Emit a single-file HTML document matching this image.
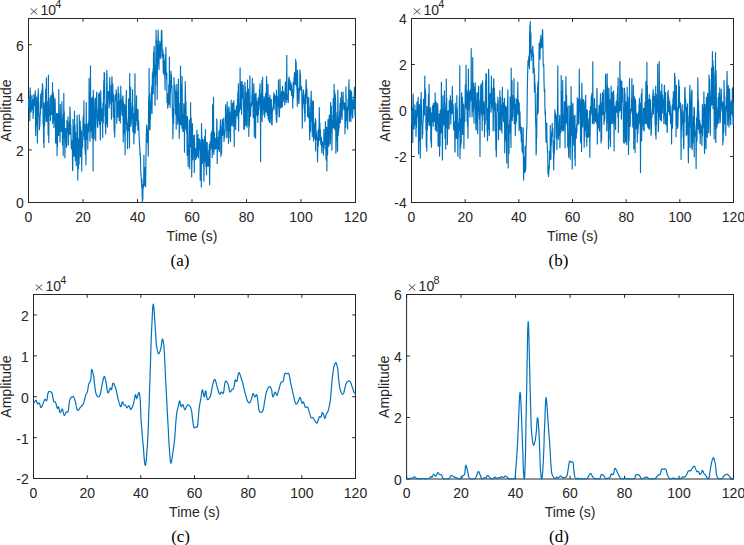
<!DOCTYPE html>
<html><head><meta charset="utf-8"><style>
html,body{margin:0;padding:0;background:#fff;}
svg{display:block;}
</style></head><body>
<svg width="744" height="545" viewBox="0 0 744 545" font-family='"Liberation Sans", sans-serif' font-size="14" fill="#262626">
<defs><clipPath id="ca"><rect x="27.7" y="17.7" width="328.6" height="185.6"/></clipPath><clipPath id="cb"><rect x="410.7" y="17.7" width="323.6" height="185.6"/></clipPath><clipPath id="cc"><rect x="32.7" y="293.7" width="323.6" height="185.6"/></clipPath><clipPath id="cd"><rect x="405.8" y="293.7" width="328.5" height="186.1"/></clipPath></defs>
<rect width="744" height="545" fill="#fff"/>
<rect x="28.5" y="18.5" width="327.0" height="184.0" fill="none" stroke="#262626" stroke-width="1"/><rect x="411.5" y="18.5" width="322.0" height="184.0" fill="none" stroke="#262626" stroke-width="1"/><rect x="33.5" y="294.5" width="322.0" height="184.0" fill="none" stroke="#262626" stroke-width="1"/><rect x="406.6" y="294.5" width="326.9" height="184.5" fill="none" stroke="#262626" stroke-width="1"/>
<path d="M28.50,202.5V199.20M28.50,18.5V21.80M83.00,202.5V199.20M83.00,18.5V21.80M137.50,202.5V199.20M137.50,18.5V21.80M192.00,202.5V199.20M192.00,18.5V21.80M246.50,202.5V199.20M246.50,18.5V21.80M301.00,202.5V199.20M301.00,18.5V21.80M355.50,202.5V199.20M355.50,18.5V21.80M28.5,202.50H31.80M355.5,202.50H352.20M28.5,149.93H31.80M355.5,149.93H352.20M28.5,97.36H31.80M355.5,97.36H352.20M28.5,44.79H31.80M355.5,44.79H352.20" stroke="#262626" stroke-width="1" fill="none"/><text x="28.50" y="221.80" text-anchor="middle">0</text><text x="83.00" y="221.80" text-anchor="middle">20</text><text x="137.50" y="221.80" text-anchor="middle">40</text><text x="192.00" y="221.80" text-anchor="middle">60</text><text x="246.50" y="221.80" text-anchor="middle">80</text><text x="301.00" y="221.80" text-anchor="middle">100</text><text x="355.50" y="221.80" text-anchor="middle">120</text><text x="23.70" y="208.40" text-anchor="end">0</text><text x="23.70" y="155.83" text-anchor="end">2</text><text x="23.70" y="103.26" text-anchor="end">4</text><text x="23.70" y="50.69" text-anchor="end">6</text><path d="M30.70,8.50L37.30,14.40M37.30,8.50L30.70,14.40" stroke="#262626" stroke-width="0.85" fill="none"/><text x="40.50" y="14.80">10</text><text x="55.30" y="8.10" font-size="10.8">4</text><text x="192.00" y="241.10" text-anchor="middle">Time (s)</text><text transform="translate(10.5,110.50) rotate(-90)" text-anchor="middle">Amplitude</text><path d="M411.50,202.5V199.20M411.50,18.5V21.80M465.17,202.5V199.20M465.17,18.5V21.80M518.83,202.5V199.20M518.83,18.5V21.80M572.50,202.5V199.20M572.50,18.5V21.80M626.17,202.5V199.20M626.17,18.5V21.80M679.83,202.5V199.20M679.83,18.5V21.80M733.50,202.5V199.20M733.50,18.5V21.80M411.5,202.50H414.80M733.5,202.50H730.20M411.5,156.50H414.80M733.5,156.50H730.20M411.5,110.50H414.80M733.5,110.50H730.20M411.5,64.50H414.80M733.5,64.50H730.20M411.5,18.50H414.80M733.5,18.50H730.20" stroke="#262626" stroke-width="1" fill="none"/><text x="411.50" y="221.80" text-anchor="middle">0</text><text x="465.17" y="221.80" text-anchor="middle">20</text><text x="518.83" y="221.80" text-anchor="middle">40</text><text x="572.50" y="221.80" text-anchor="middle">60</text><text x="626.17" y="221.80" text-anchor="middle">80</text><text x="679.83" y="221.80" text-anchor="middle">100</text><text x="733.50" y="221.80" text-anchor="middle">120</text><text x="406.70" y="208.40" text-anchor="end">-4</text><text x="406.70" y="162.40" text-anchor="end">-2</text><text x="406.70" y="116.40" text-anchor="end">0</text><text x="406.70" y="70.40" text-anchor="end">2</text><text x="406.70" y="24.40" text-anchor="end">4</text><path d="M413.70,8.50L420.30,14.40M420.30,8.50L413.70,14.40" stroke="#262626" stroke-width="0.85" fill="none"/><text x="423.50" y="14.80">10</text><text x="438.30" y="8.10" font-size="10.8">4</text><text x="572.50" y="241.10" text-anchor="middle">Time (s)</text><text transform="translate(389.5,110.50) rotate(-90)" text-anchor="middle">Amplitude</text><path d="M33.50,478.5V475.20M33.50,294.5V297.80M87.17,478.5V475.20M87.17,294.5V297.80M140.83,478.5V475.20M140.83,294.5V297.80M194.50,478.5V475.20M194.50,294.5V297.80M248.17,478.5V475.20M248.17,294.5V297.80M301.83,478.5V475.20M301.83,294.5V297.80M355.50,478.5V475.20M355.50,294.5V297.80M33.5,478.50H36.80M355.5,478.50H352.20M33.5,437.61H36.80M355.5,437.61H352.20M33.5,396.72H36.80M355.5,396.72H352.20M33.5,355.83H36.80M355.5,355.83H352.20M33.5,314.94H36.80M355.5,314.94H352.20" stroke="#262626" stroke-width="1" fill="none"/><text x="33.50" y="497.80" text-anchor="middle">0</text><text x="87.17" y="497.80" text-anchor="middle">20</text><text x="140.83" y="497.80" text-anchor="middle">40</text><text x="194.50" y="497.80" text-anchor="middle">60</text><text x="248.17" y="497.80" text-anchor="middle">80</text><text x="301.83" y="497.80" text-anchor="middle">100</text><text x="355.50" y="497.80" text-anchor="middle">120</text><text x="28.70" y="484.40" text-anchor="end">-2</text><text x="28.70" y="443.51" text-anchor="end">-1</text><text x="28.70" y="402.62" text-anchor="end">0</text><text x="28.70" y="361.73" text-anchor="end">1</text><text x="28.70" y="320.84" text-anchor="end">2</text><path d="M35.70,284.50L42.30,290.40M42.30,284.50L35.70,290.40" stroke="#262626" stroke-width="0.85" fill="none"/><text x="45.50" y="290.80">10</text><text x="60.30" y="284.10" font-size="10.8">4</text><text x="194.50" y="517.10" text-anchor="middle">Time (s)</text><text transform="translate(10.5,386.50) rotate(-90)" text-anchor="middle">Amplitude</text><path d="M406.60,479.0V475.70M406.60,294.5V297.80M461.08,479.0V475.70M461.08,294.5V297.80M515.57,479.0V475.70M515.57,294.5V297.80M570.05,479.0V475.70M570.05,294.5V297.80M624.53,479.0V475.70M624.53,294.5V297.80M679.02,479.0V475.70M679.02,294.5V297.80M733.50,479.0V475.70M733.50,294.5V297.80M406.6,479.00H409.90M733.5,479.00H730.20M406.6,417.50H409.90M733.5,417.50H730.20M406.6,356.00H409.90M733.5,356.00H730.20M406.6,294.50H409.90M733.5,294.50H730.20" stroke="#262626" stroke-width="1" fill="none"/><text x="406.60" y="498.30" text-anchor="middle">0</text><text x="461.08" y="498.30" text-anchor="middle">20</text><text x="515.57" y="498.30" text-anchor="middle">40</text><text x="570.05" y="498.30" text-anchor="middle">60</text><text x="624.53" y="498.30" text-anchor="middle">80</text><text x="679.02" y="498.30" text-anchor="middle">100</text><text x="733.50" y="498.30" text-anchor="middle">120</text><text x="401.80" y="484.90" text-anchor="end">0</text><text x="401.80" y="423.40" text-anchor="end">2</text><text x="401.80" y="361.90" text-anchor="end">4</text><text x="401.80" y="300.40" text-anchor="end">6</text><path d="M408.80,284.50L415.40,290.40M415.40,284.50L408.80,290.40" stroke="#262626" stroke-width="0.85" fill="none"/><text x="418.60" y="290.80">10</text><text x="433.40" y="284.10" font-size="10.8">8</text><text x="570.05" y="516.90" text-anchor="middle">Time (s)</text><text transform="translate(389.0,386.75) rotate(-90)" text-anchor="middle">Amplitude</text>
<path clip-path="url(#ca)" d="M28.5,97.9 L28.7,108.0 L28.9,103.0 L29.2,108.9 L29.4,106.4 L29.6,97.1 L29.8,120.8 L30.0,91.3 L30.2,87.8 L30.5,97.1 L30.7,111.9 L30.9,111.3 L31.1,111.9 L31.3,108.6 L31.6,108.8 L31.8,102.2 L32.0,95.4 L32.2,109.1 L32.4,107.3 L32.6,100.7 L32.9,99.7 L33.1,118.5 L33.3,106.6 L33.5,113.0 L33.7,104.7 L34.0,94.6 L34.2,105.8 L34.4,104.5 L34.6,101.8 L34.8,100.2 L35.0,96.9 L35.3,90.9 L35.5,117.7 L35.7,135.5 L35.9,120.5 L36.1,125.3 L36.4,111.4 L36.6,97.0 L36.8,106.9 L37.0,118.4 L37.2,115.9 L37.4,143.1 L37.7,125.0 L37.9,94.7 L38.1,104.0 L38.3,88.9 L38.5,99.9 L38.8,104.0 L39.0,116.4 L39.2,117.1 L39.4,129.8 L39.6,116.6 L39.8,126.6 L40.1,116.5 L40.3,114.7 L40.5,112.2 L40.7,94.4 L40.9,102.1 L41.2,103.1 L41.4,92.9 L41.6,107.9 L41.8,90.9 L42.0,96.5 L42.2,90.5 L42.5,83.5 L42.7,87.0 L42.9,89.3 L43.1,124.2 L43.3,112.6 L43.6,142.6 L43.8,121.0 L44.0,147.5 L44.2,102.8 L44.4,119.6 L44.6,126.2 L44.9,109.1 L45.1,121.7 L45.3,106.3 L45.5,103.5 L45.7,89.2 L46.0,117.1 L46.2,93.6 L46.4,77.9 L46.6,120.3 L46.8,121.6 L47.0,119.3 L47.3,107.3 L47.5,115.5 L47.7,102.7 L47.9,101.1 L48.1,134.8 L48.4,75.0 L48.6,129.8 L48.8,142.6 L49.0,105.2 L49.2,113.7 L49.4,115.3 L49.7,113.7 L49.9,98.0 L50.1,114.3 L50.3,100.4 L50.5,120.6 L50.8,95.6 L51.0,111.4 L51.2,102.6 L51.4,98.6 L51.6,114.6 L51.8,100.3 L52.1,93.6 L52.3,106.5 L52.5,82.6 L52.7,123.5 L52.9,116.1 L53.2,92.7 L53.4,95.3 L53.6,114.6 L53.8,96.5 L54.0,127.6 L54.2,111.1 L54.5,113.8 L54.7,119.6 L54.9,108.3 L55.1,98.9 L55.3,106.3 L55.6,142.7 L55.8,119.3 L56.0,143.3 L56.2,132.2 L56.4,136.2 L56.6,113.5 L56.9,131.8 L57.1,155.8 L57.3,128.0 L57.5,147.1 L57.7,113.4 L57.9,119.3 L58.2,125.0 L58.4,125.6 L58.6,135.5 L58.8,89.6 L59.0,120.8 L59.3,122.3 L59.5,114.6 L59.7,132.5 L59.9,133.6 L60.1,142.1 L60.3,104.5 L60.6,131.2 L60.8,126.8 L61.0,123.4 L61.2,125.1 L61.4,131.3 L61.7,116.5 L61.9,101.7 L62.1,127.2 L62.3,117.6 L62.5,145.0 L62.7,125.7 L63.0,126.8 L63.2,155.6 L63.4,114.1 L63.6,132.3 L63.8,93.4 L64.1,138.4 L64.3,111.8 L64.5,138.6 L64.7,134.6 L64.9,157.7 L65.1,143.8 L65.4,133.1 L65.6,128.4 L65.8,128.9 L66.0,131.2 L66.2,136.5 L66.5,147.3 L66.7,145.2 L66.9,120.7 L67.1,129.3 L67.3,122.0 L67.5,129.3 L67.8,132.5 L68.0,116.9 L68.2,135.1 L68.4,145.0 L68.6,131.5 L68.9,131.6 L69.1,123.7 L69.3,126.2 L69.5,121.1 L69.7,134.4 L69.9,106.9 L70.2,115.1 L70.4,124.3 L70.6,133.5 L70.8,124.7 L71.0,134.6 L71.3,147.8 L71.5,143.5 L71.7,149.2 L71.9,140.4 L72.1,146.2 L72.3,143.9 L72.6,170.6 L72.8,169.1 L73.0,119.4 L73.2,132.9 L73.4,140.7 L73.7,126.6 L73.9,146.5 L74.1,156.2 L74.3,148.0 L74.5,111.4 L74.7,137.8 L75.0,124.8 L75.2,154.7 L75.4,160.8 L75.6,132.6 L75.8,142.5 L76.1,158.2 L76.3,165.7 L76.5,150.9 L76.7,138.3 L76.9,137.7 L77.1,115.4 L77.4,129.3 L77.6,146.4 L77.8,180.1 L78.0,152.0 L78.2,139.0 L78.5,168.6 L78.7,141.4 L78.9,148.8 L79.1,163.9 L79.3,114.8 L79.5,138.7 L79.8,142.6 L80.0,126.8 L80.2,121.1 L80.4,156.9 L80.6,126.6 L80.9,144.0 L81.1,131.2 L81.3,152.0 L81.5,130.9 L81.7,171.1 L81.9,152.0 L82.2,139.5 L82.4,143.7 L82.6,147.2 L82.8,136.9 L83.0,120.7 L83.3,115.5 L83.5,135.6 L83.7,130.0 L83.9,100.9 L84.1,126.7 L84.3,139.2 L84.6,134.4 L84.8,124.2 L85.0,150.5 L85.2,125.0 L85.4,154.6 L85.7,147.6 L85.9,164.7 L86.1,135.0 L86.3,102.5 L86.5,139.5 L86.7,123.7 L87.0,130.0 L87.2,131.6 L87.4,127.8 L87.6,130.6 L87.8,149.3 L88.1,123.1 L88.3,126.7 L88.5,131.8 L88.7,121.0 L88.9,126.3 L89.1,78.3 L89.4,120.5 L89.6,118.3 L89.8,127.7 L90.0,141.2 L90.2,131.1 L90.5,65.8 L90.7,122.3 L90.9,130.7 L91.1,119.6 L91.3,113.5 L91.5,98.3 L91.8,125.6 L92.0,138.0 L92.2,108.5 L92.4,97.2 L92.6,101.4 L92.9,106.9 L93.1,171.0 L93.3,90.3 L93.5,112.1 L93.7,131.3 L93.9,137.9 L94.2,139.0 L94.4,110.3 L94.6,111.4 L94.8,103.0 L95.0,98.5 L95.3,127.5 L95.5,124.4 L95.7,140.7 L95.9,103.6 L96.1,97.8 L96.3,117.5 L96.6,92.2 L96.8,92.5 L97.0,115.0 L97.2,121.0 L97.4,125.8 L97.7,127.4 L97.9,124.5 L98.1,115.7 L98.3,109.0 L98.5,120.6 L98.7,94.1 L99.0,120.0 L99.2,98.3 L99.4,92.9 L99.6,124.4 L99.8,97.0 L100.1,113.2 L100.3,140.0 L100.5,112.9 L100.7,90.6 L100.9,100.6 L101.1,113.3 L101.4,120.7 L101.6,108.5 L101.8,113.1 L102.0,113.9 L102.2,123.5 L102.5,112.2 L102.7,137.5 L102.9,104.5 L103.1,102.5 L103.3,122.7 L103.5,97.7 L103.8,80.5 L104.0,98.9 L104.2,72.4 L104.4,96.0 L104.6,73.1 L104.9,115.4 L105.1,104.6 L105.3,126.3 L105.5,104.9 L105.7,133.9 L105.9,122.9 L106.2,110.4 L106.4,123.4 L106.6,102.0 L106.8,70.4 L107.0,75.0 L107.3,93.1 L107.5,127.0 L107.7,91.6 L107.9,99.5 L108.1,98.2 L108.3,93.6 L108.6,92.8 L108.8,91.6 L109.0,99.7 L109.2,108.0 L109.4,95.9 L109.7,77.5 L109.9,104.0 L110.1,100.1 L110.3,96.7 L110.5,99.5 L110.7,99.3 L111.0,94.8 L111.2,85.3 L111.4,119.1 L111.6,115.8 L111.8,78.7 L112.0,76.7 L112.3,101.5 L112.5,83.7 L112.7,84.1 L112.9,90.7 L113.1,94.6 L113.4,117.3 L113.6,94.7 L113.8,104.5 L114.0,120.0 L114.2,132.1 L114.4,108.9 L114.7,137.1 L114.9,127.1 L115.1,101.3 L115.3,94.9 L115.5,100.6 L115.8,97.1 L116.0,99.7 L116.2,89.5 L116.4,100.4 L116.6,92.8 L116.8,123.3 L117.1,102.3 L117.3,115.5 L117.5,111.1 L117.7,107.1 L117.9,117.0 L118.2,86.7 L118.4,96.9 L118.6,109.4 L118.8,95.8 L119.0,93.9 L119.2,120.4 L119.5,108.1 L119.7,114.5 L119.9,109.5 L120.1,100.7 L120.3,122.9 L120.6,102.2 L120.8,86.1 L121.0,104.1 L121.2,98.6 L121.4,109.2 L121.6,106.7 L121.9,114.8 L122.1,112.2 L122.3,100.1 L122.5,116.0 L122.7,96.1 L123.0,95.8 L123.2,141.8 L123.4,128.8 L123.6,102.4 L123.8,113.0 L124.0,119.4 L124.3,133.1 L124.5,115.5 L124.7,104.7 L124.9,132.3 L125.1,154.7 L125.4,106.7 L125.6,123.6 L125.8,109.1 L126.0,104.8 L126.2,97.8 L126.4,90.4 L126.7,127.8 L126.9,130.6 L127.1,123.0 L127.3,130.9 L127.5,148.6 L127.8,122.9 L128.0,130.3 L128.2,118.8 L128.4,130.8 L128.6,98.8 L128.8,108.1 L129.1,119.4 L129.3,129.8 L129.5,147.9 L129.7,73.5 L129.9,121.8 L130.2,97.9 L130.4,100.4 L130.6,87.4 L130.8,126.4 L131.0,102.9 L131.2,124.3 L131.5,110.9 L131.7,109.0 L131.9,110.1 L132.1,115.4 L132.3,119.0 L132.6,89.7 L132.8,131.8 L133.0,106.5 L133.2,124.4 L133.4,113.5 L133.6,113.8 L133.9,143.8 L134.1,125.1 L134.3,117.6 L134.5,133.8 L134.7,110.8 L135.0,73.7 L135.2,132.9 L135.4,122.0 L135.6,111.2 L135.8,119.2 L136.0,125.3 L136.3,112.4 L136.5,95.9 L136.7,116.4 L136.9,120.7 L137.1,109.9 L137.4,120.4 L137.6,109.7 L137.8,130.1 L138.0,109.4 L138.2,127.2 L138.4,128.1 L138.7,120.9 L138.9,130.6 L139.1,135.6 L139.3,139.6 L139.5,145.4 L139.8,147.8 L140.0,155.1 L140.2,152.9 L140.4,156.8 L140.6,164.8 L140.8,172.4 L141.1,176.4 L141.3,177.7 L141.5,182.7 L141.7,187.3 L141.9,179.1 L142.2,195.0 L142.4,202.5 L142.6,198.7 L142.8,199.6 L143.0,184.6 L143.2,188.6 L143.5,184.6 L143.7,185.6 L143.9,155.1 L144.1,177.0 L144.3,185.6 L144.6,181.8 L144.8,167.5 L145.0,173.5 L145.2,174.8 L145.4,177.1 L145.6,186.7 L145.9,164.0 L146.1,147.5 L146.3,137.2 L146.5,128.9 L146.7,125.0 L147.0,129.2 L147.2,142.4 L147.4,136.1 L147.6,130.0 L147.8,137.8 L148.0,133.2 L148.3,156.0 L148.5,112.2 L148.7,96.5 L148.9,129.0 L149.1,68.4 L149.4,128.5 L149.6,112.5 L149.8,93.8 L150.0,130.0 L150.2,120.6 L150.4,119.1 L150.7,111.2 L150.9,108.7 L151.1,100.8 L151.3,101.5 L151.5,91.5 L151.8,85.9 L152.0,113.5 L152.2,95.9 L152.4,73.2 L152.6,81.8 L152.8,82.1 L153.1,68.9 L153.3,93.8 L153.5,52.7 L153.7,67.5 L153.9,53.1 L154.2,46.3 L154.4,64.9 L154.6,77.4 L154.8,69.2 L155.0,105.4 L155.2,89.1 L155.5,64.9 L155.7,84.5 L155.9,49.4 L156.1,30.2 L156.3,74.1 L156.6,40.0 L156.8,53.4 L157.0,46.8 L157.2,99.2 L157.4,68.7 L157.6,65.9 L157.9,45.5 L158.1,30.2 L158.3,37.5 L158.5,61.5 L158.7,56.4 L159.0,69.6 L159.2,44.9 L159.4,52.2 L159.6,57.3 L159.8,41.2 L160.0,48.6 L160.3,58.3 L160.5,55.5 L160.7,58.2 L160.9,43.3 L161.1,49.4 L161.4,30.2 L161.6,30.2 L161.8,30.2 L162.0,40.6 L162.2,55.3 L162.4,57.1 L162.7,54.6 L162.9,50.0 L163.1,64.2 L163.3,73.1 L163.5,63.2 L163.8,54.4 L164.0,70.3 L164.2,75.0 L164.4,61.0 L164.6,65.1 L164.8,74.9 L165.1,90.0 L165.3,61.3 L165.5,58.8 L165.7,56.9 L165.9,47.3 L166.1,70.8 L166.4,73.6 L166.6,79.3 L166.8,72.7 L167.0,102.5 L167.2,93.3 L167.5,94.7 L167.7,108.3 L167.9,103.7 L168.1,98.0 L168.3,105.1 L168.5,102.3 L168.8,84.6 L169.0,90.5 L169.2,97.7 L169.4,57.2 L169.6,103.9 L169.9,96.4 L170.1,107.5 L170.3,80.6 L170.5,93.3 L170.7,79.9 L170.9,71.1 L171.2,87.3 L171.4,74.3 L171.6,88.0 L171.8,86.7 L172.0,86.2 L172.3,105.6 L172.5,116.7 L172.7,117.5 L172.9,138.8 L173.1,125.5 L173.3,108.4 L173.6,123.4 L173.8,113.6 L174.0,77.6 L174.2,87.8 L174.4,85.3 L174.7,86.9 L174.9,85.0 L175.1,90.7 L175.3,101.9 L175.5,114.1 L175.7,91.2 L176.0,101.4 L176.2,129.3 L176.4,115.3 L176.6,104.6 L176.8,84.4 L177.1,105.4 L177.3,92.4 L177.5,109.6 L177.7,124.2 L177.9,115.4 L178.1,121.8 L178.4,79.0 L178.6,113.9 L178.8,108.7 L179.0,103.2 L179.2,138.5 L179.5,124.7 L179.7,117.9 L179.9,117.8 L180.1,125.0 L180.3,116.7 L180.5,66.1 L180.8,101.7 L181.0,110.1 L181.2,124.7 L181.4,85.4 L181.6,115.1 L181.9,128.3 L182.1,76.3 L182.3,112.8 L182.5,115.1 L182.7,121.4 L182.9,131.5 L183.2,121.8 L183.4,118.0 L183.6,117.2 L183.8,103.7 L184.0,131.4 L184.3,121.8 L184.5,152.3 L184.7,106.5 L184.9,110.2 L185.1,104.1 L185.3,81.5 L185.6,102.0 L185.8,129.2 L186.0,101.8 L186.2,126.2 L186.4,121.9 L186.7,133.0 L186.9,116.7 L187.1,155.1 L187.3,132.9 L187.5,116.5 L187.7,155.1 L188.0,157.6 L188.2,166.7 L188.4,144.5 L188.6,150.7 L188.8,153.3 L189.1,134.6 L189.3,119.8 L189.5,151.6 L189.7,168.7 L189.9,146.8 L190.1,138.5 L190.4,146.8 L190.6,102.6 L190.8,139.4 L191.0,125.0 L191.2,117.7 L191.5,134.8 L191.7,177.0 L191.9,162.5 L192.1,157.0 L192.3,152.7 L192.5,123.7 L192.8,159.7 L193.0,150.5 L193.2,144.8 L193.4,148.8 L193.6,152.8 L193.9,135.6 L194.1,144.9 L194.3,172.5 L194.5,135.1 L194.7,152.6 L194.9,158.1 L195.2,148.4 L195.4,149.2 L195.6,151.8 L195.8,159.7 L196.0,149.3 L196.3,157.6 L196.5,157.8 L196.7,146.4 L196.9,130.1 L197.1,146.4 L197.3,155.1 L197.6,143.9 L197.8,156.0 L198.0,134.5 L198.2,152.8 L198.4,157.8 L198.7,146.0 L198.9,145.9 L199.1,138.8 L199.3,149.8 L199.5,144.9 L199.7,139.3 L200.0,147.4 L200.2,180.2 L200.4,150.7 L200.6,175.6 L200.8,151.8 L201.1,140.4 L201.3,187.1 L201.5,123.5 L201.7,135.1 L201.9,159.6 L202.1,137.5 L202.4,163.6 L202.6,149.5 L202.8,150.5 L203.0,150.4 L203.2,139.6 L203.5,156.7 L203.7,160.6 L203.9,181.3 L204.1,169.1 L204.3,153.4 L204.5,140.5 L204.8,136.7 L205.0,161.3 L205.2,161.7 L205.4,129.5 L205.6,145.5 L205.9,166.5 L206.1,166.1 L206.3,154.8 L206.5,174.6 L206.7,142.2 L206.9,144.8 L207.2,142.5 L207.4,152.8 L207.6,166.1 L207.8,158.9 L208.0,162.5 L208.3,157.8 L208.5,166.1 L208.7,150.3 L208.9,162.0 L209.1,152.6 L209.3,144.4 L209.6,184.8 L209.8,169.2 L210.0,165.2 L210.2,141.7 L210.4,142.8 L210.7,149.2 L210.9,141.4 L211.1,133.4 L211.3,141.8 L211.5,147.3 L211.7,131.6 L212.0,138.3 L212.2,157.4 L212.4,149.2 L212.6,104.8 L212.8,148.5 L213.1,149.6 L213.3,151.4 L213.5,97.4 L213.7,147.9 L213.9,154.5 L214.1,133.4 L214.4,132.2 L214.6,139.4 L214.8,140.8 L215.0,143.7 L215.2,149.3 L215.5,138.2 L215.7,141.9 L215.9,142.2 L216.1,141.0 L216.3,148.4 L216.5,144.0 L216.8,118.8 L217.0,121.5 L217.2,163.5 L217.4,145.6 L217.6,151.0 L217.9,145.0 L218.1,148.2 L218.3,137.4 L218.5,148.9 L218.7,143.1 L218.9,131.0 L219.2,146.8 L219.4,151.5 L219.6,130.9 L219.8,130.6 L220.0,129.4 L220.2,126.4 L220.5,119.7 L220.7,125.2 L220.9,156.6 L221.1,141.0 L221.3,153.5 L221.6,154.2 L221.8,135.0 L222.0,126.1 L222.2,128.6 L222.4,119.4 L222.6,135.4 L222.9,131.5 L223.1,127.9 L223.3,125.5 L223.5,129.4 L223.7,118.0 L224.0,141.6 L224.2,134.0 L224.4,136.2 L224.6,137.5 L224.8,135.1 L225.0,130.5 L225.3,130.2 L225.5,107.6 L225.7,104.7 L225.9,113.1 L226.1,122.2 L226.4,122.5 L226.6,117.7 L226.8,137.7 L227.0,136.5 L227.2,101.8 L227.4,130.6 L227.7,108.0 L227.9,125.5 L228.1,114.4 L228.3,119.5 L228.5,143.3 L228.8,124.7 L229.0,106.8 L229.2,112.0 L229.4,130.4 L229.6,123.3 L229.8,112.2 L230.1,137.5 L230.3,131.0 L230.5,141.5 L230.7,125.6 L230.9,124.9 L231.2,100.2 L231.4,116.0 L231.6,111.6 L231.8,125.3 L232.0,116.4 L232.2,121.4 L232.5,103.0 L232.7,115.3 L232.9,116.9 L233.1,125.9 L233.3,126.3 L233.6,105.1 L233.8,100.7 L234.0,105.9 L234.2,146.6 L234.4,110.7 L234.6,122.6 L234.9,123.3 L235.1,110.2 L235.3,124.1 L235.5,120.1 L235.7,129.6 L236.0,112.9 L236.2,109.5 L236.4,106.2 L236.6,108.2 L236.8,105.6 L237.0,115.8 L237.3,109.2 L237.5,99.2 L237.7,100.4 L237.9,91.6 L238.1,118.3 L238.4,83.9 L238.6,131.1 L238.8,113.5 L239.0,108.8 L239.2,104.2 L239.4,112.0 L239.7,106.8 L239.9,97.2 L240.1,67.8 L240.3,104.6 L240.5,109.1 L240.8,91.3 L241.0,82.1 L241.2,95.2 L241.4,98.3 L241.6,114.3 L241.8,102.3 L242.1,81.3 L242.3,98.3 L242.5,93.3 L242.7,88.0 L242.9,93.1 L243.2,85.1 L243.4,95.3 L243.6,105.6 L243.8,129.1 L244.0,122.7 L244.2,99.9 L244.5,129.1 L244.7,105.7 L244.9,82.5 L245.1,96.1 L245.3,86.5 L245.6,104.8 L245.8,125.4 L246.0,102.8 L246.2,114.4 L246.4,111.1 L246.6,92.2 L246.9,120.9 L247.1,127.3 L247.3,121.0 L247.5,80.1 L247.7,103.4 L248.0,109.4 L248.2,106.8 L248.4,89.0 L248.6,96.7 L248.8,136.5 L249.0,123.6 L249.3,114.2 L249.5,125.8 L249.7,103.1 L249.9,75.7 L250.1,111.2 L250.4,103.9 L250.6,116.2 L250.8,107.0 L251.0,103.7 L251.2,106.7 L251.4,103.0 L251.7,104.9 L251.9,95.0 L252.1,97.9 L252.3,78.4 L252.5,98.1 L252.8,104.8 L253.0,104.3 L253.2,117.7 L253.4,110.7 L253.6,100.2 L253.8,83.8 L254.1,98.0 L254.3,136.7 L254.5,101.6 L254.7,110.7 L254.9,94.0 L255.2,105.1 L255.4,106.2 L255.6,138.2 L255.8,97.5 L256.0,93.0 L256.2,99.1 L256.5,115.2 L256.7,115.3 L256.9,101.4 L257.1,110.5 L257.3,105.9 L257.6,109.1 L257.8,122.5 L258.0,99.0 L258.2,98.1 L258.4,114.5 L258.6,100.2 L258.9,109.8 L259.1,95.7 L259.3,104.2 L259.5,89.3 L259.7,94.3 L260.0,83.7 L260.2,99.9 L260.4,105.4 L260.6,161.8 L260.8,106.7 L261.0,112.9 L261.3,94.3 L261.5,101.0 L261.7,91.8 L261.9,80.7 L262.1,121.3 L262.4,109.7 L262.6,77.3 L262.8,108.0 L263.0,109.5 L263.2,101.5 L263.4,100.4 L263.7,104.3 L263.9,114.7 L264.1,96.5 L264.3,109.4 L264.5,101.0 L264.8,117.3 L265.0,100.9 L265.2,98.4 L265.4,106.1 L265.6,93.5 L265.8,95.3 L266.1,112.3 L266.3,102.8 L266.5,76.5 L266.7,80.5 L266.9,111.7 L267.2,105.4 L267.4,115.3 L267.6,97.9 L267.8,113.7 L268.0,84.3 L268.2,118.7 L268.5,100.0 L268.7,120.4 L268.9,97.7 L269.1,120.6 L269.3,103.9 L269.6,122.4 L269.8,112.5 L270.0,95.2 L270.2,122.6 L270.4,112.0 L270.6,112.8 L270.9,99.3 L271.1,109.1 L271.3,99.4 L271.5,111.8 L271.7,124.5 L272.0,125.1 L272.2,121.2 L272.4,108.8 L272.6,111.6 L272.8,110.0 L273.0,106.1 L273.3,107.2 L273.5,96.7 L273.7,97.8 L273.9,92.7 L274.1,109.3 L274.3,103.1 L274.6,94.7 L274.8,100.5 L275.0,99.0 L275.2,96.1 L275.4,102.7 L275.7,96.2 L275.9,113.9 L276.1,106.0 L276.3,120.2 L276.5,90.3 L276.7,122.5 L277.0,113.4 L277.2,113.5 L277.4,101.6 L277.6,106.6 L277.8,96.2 L278.1,98.6 L278.3,103.8 L278.5,80.0 L278.7,102.8 L278.9,108.7 L279.1,117.0 L279.4,116.2 L279.6,110.0 L279.8,107.0 L280.0,79.2 L280.2,88.4 L280.5,102.2 L280.7,107.1 L280.9,103.1 L281.1,107.9 L281.3,107.7 L281.5,93.0 L281.8,91.1 L282.0,96.2 L282.2,94.3 L282.4,106.7 L282.6,86.3 L282.9,97.4 L283.1,101.4 L283.3,101.5 L283.5,91.5 L283.7,94.1 L283.9,97.9 L284.2,92.9 L284.4,94.5 L284.6,98.7 L284.8,105.1 L285.0,97.1 L285.3,82.7 L285.5,81.8 L285.7,99.0 L285.9,93.6 L286.1,88.4 L286.3,102.4 L286.6,83.6 L286.8,55.3 L287.0,98.8 L287.2,94.2 L287.4,98.6 L287.7,99.8 L287.9,97.9 L288.1,102.3 L288.3,102.4 L288.5,85.5 L288.7,78.1 L289.0,87.9 L289.2,77.0 L289.4,89.5 L289.6,79.9 L289.8,80.9 L290.1,84.7 L290.3,82.3 L290.5,90.6 L290.7,82.3 L290.9,83.0 L291.1,89.4 L291.4,85.0 L291.6,95.5 L291.8,89.7 L292.0,95.4 L292.2,91.7 L292.5,95.2 L292.7,108.2 L292.9,89.3 L293.1,84.3 L293.3,82.3 L293.5,97.7 L293.8,92.0 L294.0,77.7 L294.2,83.4 L294.4,72.6 L294.6,76.0 L294.9,73.1 L295.1,84.4 L295.3,77.5 L295.5,84.2 L295.7,59.4 L295.9,70.3 L296.2,62.3 L296.4,86.2 L296.6,82.0 L296.8,81.9 L297.0,89.4 L297.3,106.3 L297.5,70.2 L297.7,77.0 L297.9,95.5 L298.1,100.0 L298.3,87.9 L298.6,95.3 L298.8,103.5 L299.0,102.8 L299.2,94.2 L299.4,88.6 L299.7,90.7 L299.9,69.9 L300.1,72.8 L300.3,86.3 L300.5,74.4 L300.7,89.7 L301.0,87.6 L301.2,88.7 L301.4,90.1 L301.6,86.7 L301.8,95.4 L302.1,109.5 L302.3,128.2 L302.5,106.3 L302.7,108.0 L302.9,98.6 L303.1,94.4 L303.4,89.8 L303.6,99.9 L303.8,103.5 L304.0,94.5 L304.2,101.7 L304.5,113.1 L304.7,111.2 L304.9,121.5 L305.1,119.3 L305.3,101.2 L305.5,90.9 L305.8,103.5 L306.0,81.2 L306.2,79.7 L306.4,87.2 L306.6,95.2 L306.9,89.0 L307.1,98.3 L307.3,96.1 L307.5,116.6 L307.7,103.7 L307.9,112.8 L308.2,115.2 L308.4,98.4 L308.6,118.0 L308.8,97.3 L309.0,112.8 L309.3,106.6 L309.5,130.8 L309.7,139.8 L309.9,123.0 L310.1,113.0 L310.3,120.7 L310.6,131.2 L310.8,100.9 L311.0,96.7 L311.2,91.2 L311.4,105.1 L311.7,102.4 L311.9,121.5 L312.1,116.7 L312.3,136.6 L312.5,124.2 L312.7,100.8 L313.0,109.2 L313.2,127.9 L313.4,101.4 L313.6,141.0 L313.8,125.1 L314.1,136.1 L314.3,138.6 L314.5,128.2 L314.7,127.7 L314.9,122.9 L315.1,135.4 L315.4,118.6 L315.6,151.0 L315.8,120.4 L316.0,135.9 L316.2,131.6 L316.5,135.5 L316.7,139.7 L316.9,137.3 L317.1,137.9 L317.3,138.5 L317.5,161.9 L317.8,148.7 L318.0,130.7 L318.2,146.3 L318.4,144.8 L318.6,130.7 L318.9,128.0 L319.1,123.4 L319.3,107.6 L319.5,119.4 L319.7,140.4 L319.9,122.6 L320.2,138.5 L320.4,129.5 L320.6,138.3 L320.8,144.5 L321.0,140.1 L321.3,137.2 L321.5,141.1 L321.7,152.8 L321.9,140.8 L322.1,146.2 L322.3,142.1 L322.6,145.4 L322.8,146.1 L323.0,143.2 L323.2,144.5 L323.4,154.9 L323.7,147.6 L323.9,129.3 L324.1,148.5 L324.3,137.8 L324.5,139.3 L324.7,143.3 L325.0,132.9 L325.2,144.2 L325.4,121.7 L325.6,137.7 L325.8,149.6 L326.1,160.1 L326.3,157.2 L326.5,127.3 L326.7,127.2 L326.9,171.0 L327.1,128.9 L327.4,129.4 L327.6,154.9 L327.8,139.0 L328.0,119.5 L328.2,127.2 L328.4,137.0 L328.7,137.7 L328.9,146.3 L329.1,120.2 L329.3,115.0 L329.5,130.4 L329.8,121.6 L330.0,119.7 L330.2,143.9 L330.4,138.9 L330.6,102.5 L330.8,130.1 L331.1,111.2 L331.3,106.2 L331.5,131.9 L331.7,122.2 L331.9,150.2 L332.2,126.5 L332.4,120.8 L332.6,128.4 L332.8,115.4 L333.0,120.3 L333.2,98.5 L333.5,115.9 L333.7,127.8 L333.9,110.6 L334.1,84.3 L334.3,118.1 L334.6,90.7 L334.8,129.7 L335.0,105.5 L335.2,94.0 L335.4,98.2 L335.6,100.6 L335.9,153.3 L336.1,131.1 L336.3,124.9 L336.5,121.9 L336.7,140.6 L337.0,116.7 L337.2,112.2 L337.4,151.2 L337.6,150.6 L337.8,90.1 L338.0,101.6 L338.3,135.3 L338.5,120.8 L338.7,131.6 L338.9,117.5 L339.1,128.1 L339.4,119.1 L339.6,112.8 L339.8,112.7 L340.0,103.4 L340.2,110.2 L340.4,122.8 L340.7,97.9 L340.9,116.3 L341.1,111.5 L341.3,109.1 L341.5,92.4 L341.8,115.6 L342.0,119.5 L342.2,114.8 L342.4,107.6 L342.6,100.5 L342.8,101.7 L343.1,92.0 L343.3,102.8 L343.5,105.2 L343.7,106.9 L343.9,109.8 L344.2,105.5 L344.4,102.7 L344.6,108.2 L344.8,103.7 L345.0,133.8 L345.2,114.0 L345.5,106.5 L345.7,127.4 L345.9,86.9 L346.1,98.2 L346.3,120.7 L346.6,120.5 L346.8,116.3 L347.0,108.2 L347.2,107.1 L347.4,120.3 L347.6,129.1 L347.9,113.8 L348.1,99.0 L348.3,100.7 L348.5,107.6 L348.7,89.2 L349.0,79.7 L349.2,110.6 L349.4,103.7 L349.6,121.2 L349.8,109.1 L350.0,110.4 L350.3,89.9 L350.5,108.8 L350.7,92.0 L350.9,121.6 L351.1,106.7 L351.4,105.9 L351.6,91.4 L351.8,101.7 L352.0,107.6 L352.2,112.7 L352.4,116.0 L352.7,118.1 L352.9,103.0 L353.1,99.0 L353.3,104.3 L353.5,106.1 L353.8,108.6 L354.0,105.6 L354.2,102.3 L354.4,87.2 L354.6,109.1 L354.8,106.6 L355.1,116.3 L355.3,110.8 L355.5,98.2" stroke="#0072BD" stroke-width="1.15" fill="none" stroke-linejoin="round"/><path clip-path="url(#cb)" d="M411.5,109.8 L411.7,124.6 L411.9,117.1 L412.1,125.6 L412.4,121.8 L412.6,108.1 L412.8,142.6 L413.0,99.3 L413.2,94.1 L413.4,107.5 L413.6,129.1 L413.9,127.9 L414.1,129.0 L414.3,124.1 L414.5,124.2 L414.7,114.6 L414.9,104.9 L415.2,124.1 L415.4,121.5 L415.6,112.2 L415.8,110.7 L416.0,136.2 L416.2,119.5 L416.4,127.6 L416.7,116.1 L416.9,102.1 L417.1,116.7 L417.3,114.8 L417.5,111.2 L417.7,109.2 L417.9,105.0 L418.2,97.4 L418.4,131.6 L418.6,154.0 L418.8,135.0 L419.0,140.7 L419.2,122.9 L419.4,104.6 L419.7,116.3 L419.9,129.8 L420.1,126.1 L420.3,158.1 L420.5,135.8 L420.7,99.2 L421.0,109.9 L421.2,92.2 L421.4,105.0 L421.6,109.7 L421.8,123.9 L422.0,124.6 L422.2,138.7 L422.5,123.7 L422.7,134.7 L422.9,123.3 L423.1,121.1 L423.3,118.5 L423.5,99.4 L423.7,108.1 L424.0,109.4 L424.2,98.8 L424.4,115.1 L424.6,97.1 L424.8,76.0 L425.0,96.3 L425.2,88.7 L425.5,92.2 L425.7,94.3 L425.9,129.6 L426.1,117.5 L426.3,147.3 L426.5,125.0 L426.8,151.1 L427.0,106.5 L427.2,123.3 L427.4,129.9 L427.6,113.3 L427.8,125.6 L428.0,110.8 L428.3,108.3 L428.5,94.8 L428.7,121.5 L428.9,99.5 L429.1,84.6 L429.3,124.3 L429.5,125.5 L429.8,123.4 L430.0,112.4 L430.2,120.4 L430.4,108.7 L430.6,107.5 L430.8,139.2 L431.0,142.8 L431.3,135.1 L431.5,147.2 L431.7,112.8 L431.9,120.9 L432.1,122.2 L432.3,120.5 L432.6,105.8 L432.8,120.7 L433.0,107.8 L433.2,126.2 L433.4,103.4 L433.6,118.0 L433.8,110.0 L434.1,106.6 L434.3,121.4 L434.5,108.5 L434.7,102.5 L434.9,114.4 L435.1,92.8 L435.3,130.1 L435.6,123.4 L435.8,101.5 L436.0,103.0 L436.2,120.0 L436.4,102.6 L436.6,131.5 L436.8,115.9 L437.1,118.3 L437.3,123.8 L437.5,112.8 L437.7,103.5 L437.9,110.5 L438.1,146.1 L438.4,122.8 L438.6,146.1 L438.8,134.3 L439.0,137.7 L439.2,113.8 L439.4,131.9 L439.6,156.1 L439.9,126.5 L440.1,145.8 L440.3,110.0 L440.5,116.0 L440.7,122.0 L440.9,122.4 L441.1,133.0 L441.4,82.2 L441.6,116.4 L441.8,117.7 L442.0,108.8 L442.2,128.8 L442.4,159.9 L442.6,139.2 L442.9,95.9 L443.1,125.9 L443.3,120.6 L443.5,116.3 L443.7,117.9 L443.9,124.4 L444.2,107.5 L444.4,90.8 L444.6,119.0 L444.8,108.3 L445.0,138.3 L445.2,116.9 L445.4,117.9 L445.7,149.1 L445.9,103.0 L446.1,122.1 L446.3,79.1 L446.5,127.1 L446.7,97.7 L446.9,125.7 L447.2,120.7 L447.4,144.6 L447.6,128.9 L447.8,116.7 L448.0,111.0 L448.2,110.8 L448.4,112.6 L448.7,117.9 L448.9,128.9 L449.1,126.4 L449.3,100.7 L449.5,109.4 L449.7,101.6 L450.0,108.9 L450.2,111.9 L450.4,95.7 L450.6,114.2 L450.8,124.1 L451.0,110.2 L451.2,110.3 L451.5,102.4 L451.7,105.1 L451.9,100.1 L452.1,113.6 L452.3,86.4 L452.5,94.7 L452.7,103.9 L453.0,113.2 L453.2,104.8 L453.4,114.9 L453.6,128.2 L453.8,124.3 L454.0,130.2 L454.2,121.9 L454.5,127.9 L454.7,126.0 L454.9,152.1 L455.1,150.9 L455.3,103.4 L455.5,116.8 L455.8,124.5 L456.0,110.7 L456.2,129.5 L456.4,138.4 L456.6,130.3 L456.8,95.5 L457.0,120.2 L457.3,107.7 L457.5,135.6 L457.7,141.0 L457.9,156.5 L458.1,123.4 L458.3,137.7 L458.5,126.0 L458.8,130.6 L459.0,118.8 L459.2,118.1 L459.4,96.6 L459.6,109.7 L459.8,65.7 L460.0,158.8 L460.3,131.4 L460.5,118.6 L460.7,147.8 L460.9,120.7 L461.1,128.1 L461.3,143.1 L461.6,92.9 L461.8,116.8 L462.0,120.5 L462.2,103.6 L462.4,97.2 L462.6,134.4 L462.8,102.0 L463.1,120.1 L463.3,106.0 L463.5,128.0 L463.7,104.7 L463.9,148.4 L464.1,127.2 L464.3,113.3 L464.6,117.8 L464.8,121.6 L465.0,109.8 L465.2,91.0 L465.4,84.5 L465.6,107.1 L465.8,99.9 L466.1,65.2 L466.3,94.6 L466.5,108.7 L466.7,102.9 L466.9,90.9 L467.1,121.7 L467.4,92.5 L467.6,126.6 L467.8,118.8 L468.0,138.3 L468.2,105.0 L468.4,69.0 L468.6,109.9 L468.9,91.8 L469.1,98.0 L469.3,99.3 L469.5,94.5 L469.7,96.8 L469.9,116.9 L470.1,90.0 L470.4,94.6 L470.6,100.8 L470.8,90.4 L471.0,96.6 L471.2,48.6 L471.4,92.7 L471.6,91.6 L471.9,102.2 L472.1,116.8 L472.3,107.9 L472.5,93.3 L472.7,57.6 L472.9,110.9 L473.2,101.3 L473.4,96.7 L473.6,83.4 L473.8,110.5 L474.0,123.3 L474.2,96.8 L474.4,87.4 L474.7,92.3 L474.9,97.8 L475.1,107.3 L475.3,82.9 L475.5,103.7 L475.7,122.1 L475.9,128.7 L476.2,130.2 L476.4,103.4 L476.6,104.9 L476.8,97.2 L477.0,92.9 L477.2,120.8 L477.4,117.9 L477.7,133.8 L477.9,98.1 L478.1,92.3 L478.3,111.1 L478.5,86.2 L478.7,86.3 L479.0,108.0 L479.2,113.7 L479.4,118.2 L479.6,119.6 L479.8,116.5 L480.0,156.5 L480.2,100.7 L480.5,112.1 L480.7,85.4 L480.9,111.1 L481.1,89.1 L481.3,83.5 L481.5,115.1 L481.7,87.1 L482.0,103.3 L482.2,130.5 L482.4,103.0 L482.6,80.8 L482.8,91.6 L483.0,105.5 L483.2,113.8 L483.5,101.9 L483.7,107.4 L483.9,108.9 L484.1,119.9 L484.3,109.1 L484.5,136.7 L484.8,102.8 L485.0,101.7 L485.2,124.1 L485.4,98.4 L485.6,80.8 L485.8,101.3 L486.0,73.4 L486.3,99.1 L486.5,74.0 L486.7,120.1 L486.9,108.2 L487.1,132.1 L487.3,108.4 L487.5,140.7 L487.8,128.4 L488.0,114.4 L488.2,129.1 L488.4,105.0 L488.6,69.4 L488.8,74.9 L489.0,95.9 L489.3,135.5 L489.5,94.7 L489.7,103.6 L489.9,101.9 L490.1,96.2 L490.3,94.9 L490.6,93.1 L490.8,102.6 L491.0,112.2 L491.2,97.7 L491.4,76.0 L491.6,108.5 L491.8,104.2 L492.1,100.5 L492.3,104.5 L492.5,104.6 L492.7,99.5 L492.9,88.2 L493.1,130.9 L493.3,127.3 L493.6,81.1 L493.8,78.6 L494.0,110.1 L494.2,87.8 L494.4,88.6 L494.6,97.1 L494.8,102.2 L495.1,131.0 L495.3,102.7 L495.5,115.3 L495.7,135.0 L495.9,150.3 L496.1,121.3 L496.3,156.7 L496.6,144.2 L496.8,111.8 L497.0,103.8 L497.2,111.0 L497.4,106.7 L497.6,110.0 L497.9,97.2 L498.1,110.9 L498.3,101.4 L498.5,139.5 L498.7,113.3 L498.9,129.4 L499.1,123.2 L499.4,117.6 L499.6,129.1 L499.8,90.7 L500.0,102.7 L500.2,117.6 L500.4,100.1 L500.6,97.6 L500.9,130.3 L501.1,115.0 L501.3,122.9 L501.5,116.6 L501.7,105.6 L501.9,132.9 L502.1,107.3 L502.4,87.4 L502.6,109.2 L502.8,102.2 L503.0,114.9 L503.2,111.5 L503.4,121.1 L503.7,117.7 L503.9,103.3 L504.1,122.2 L504.3,98.7 L504.5,98.4 L504.7,152.8 L504.9,137.1 L505.2,105.7 L505.4,117.8 L505.6,124.9 L505.8,140.3 L506.0,119.6 L506.2,106.8 L506.4,138.0 L506.7,163.1 L506.9,108.1 L507.1,127.0 L507.3,110.6 L507.5,105.9 L507.7,98.1 L507.9,89.9 L508.2,168.0 L508.4,134.7 L508.6,126.2 L508.8,134.7 L509.0,153.5 L509.2,124.9 L509.5,132.4 L509.7,119.4 L509.9,131.9 L510.1,97.0 L510.3,106.5 L510.5,118.1 L510.7,128.7 L511.0,147.4 L511.2,68.1 L511.4,118.7 L511.6,92.9 L511.8,94.8 L512.0,80.6 L512.2,120.6 L512.5,95.4 L512.7,117.2 L512.9,102.5 L513.1,99.9 L513.3,100.5 L513.5,105.4 L513.7,109.2 L514.0,78.7 L514.2,123.4 L514.4,97.1 L514.6,116.2 L514.8,104.7 L515.0,104.5 L515.3,135.6 L515.5,115.6 L515.7,107.3 L515.9,123.9 L516.1,99.2 L516.3,120.6 L516.5,121.5 L516.8,109.7 L517.0,98.3 L517.2,107.1 L517.4,114.0 L517.6,100.5 L517.8,82.0 L518.0,104.6 L518.3,111.5 L518.5,100.3 L518.7,114.9 L518.9,102.8 L519.1,130.7 L519.3,103.1 L519.5,128.1 L519.8,127.6 L520.0,111.8 L520.2,122.5 L520.4,125.9 L520.6,127.5 L520.8,133.5 L521.1,131.6 L521.3,141.5 L521.5,127.4 L521.7,128.9 L521.9,140.2 L522.1,150.3 L522.3,151.8 L522.6,146.8 L522.8,150.7 L523.0,153.7 L523.2,127.7 L523.4,159.0 L523.6,180.1 L523.8,166.1 L524.1,172.7 L524.3,157.2 L524.5,169.2 L524.7,171.0 L524.9,172.4 L525.1,146.3 L525.3,164.2 L525.6,170.7 L525.8,167.6 L526.0,150.2 L526.2,145.9 L526.4,138.1 L526.6,130.7 L526.9,127.7 L527.1,107.9 L527.3,93.0 L527.5,81.8 L527.7,71.4 L527.9,63.5 L528.1,60.3 L528.4,65.4 L528.6,61.0 L528.8,56.4 L529.0,59.5 L529.2,54.9 L529.4,68.8 L529.6,37.3 L529.9,25.2 L530.1,49.8 L530.3,21.6 L530.5,53.5 L530.7,44.1 L530.9,32.7 L531.1,60.8 L531.4,56.1 L531.6,57.1 L531.8,53.3 L532.0,53.6 L532.2,49.8 L532.4,52.4 L532.7,47.0 L532.9,46.1 L533.1,72.9 L533.3,65.3 L533.5,53.8 L533.7,66.2 L533.9,72.2 L534.2,68.4 L534.4,92.1 L534.6,74.3 L534.8,85.4 L535.0,83.1 L535.2,87.7 L535.4,107.9 L535.7,123.6 L535.9,127.2 L536.1,155.0 L536.3,152.1 L536.5,133.2 L536.7,138.0 L536.9,111.9 L537.2,93.1 L537.4,114.4 L537.6,87.2 L537.8,91.0 L538.0,81.9 L538.2,112.8 L538.5,87.3 L538.7,80.8 L538.9,60.9 L539.1,43.2 L539.3,45.3 L539.5,58.7 L539.7,50.1 L540.0,59.2 L540.2,39.9 L540.4,44.9 L540.6,48.3 L540.8,35.5 L541.0,40.6 L541.2,47.6 L541.5,44.9 L541.7,47.1 L541.9,38.9 L542.1,46.9 L542.3,32.1 L542.5,29.5 L542.7,31.5 L543.0,51.2 L543.2,63.7 L543.4,66.5 L543.6,66.1 L543.8,64.8 L544.0,80.3 L544.3,91.8 L544.5,90.2 L544.7,89.4 L544.9,105.8 L545.1,114.4 L545.3,110.2 L545.5,118.4 L545.8,129.3 L546.0,142.1 L546.2,125.1 L546.4,125.9 L546.6,127.1 L546.8,123.2 L547.0,141.6 L547.3,146.0 L547.5,152.4 L547.7,150.5 L547.9,173.3 L548.1,169.5 L548.3,168.8 L548.5,176.4 L548.8,171.5 L549.0,165.9 L549.2,169.2 L549.4,165.5 L549.6,151.1 L549.8,153.5 L550.1,157.2 L550.3,125.6 L550.5,159.1 L550.7,152.1 L550.9,159.4 L551.1,136.8 L551.3,145.4 L551.6,133.1 L551.8,131.3 L552.0,135.9 L552.2,123.4 L552.4,133.3 L552.6,130.6 L552.8,128.5 L553.1,144.0 L553.3,152.5 L553.5,151.8 L553.7,169.9 L553.9,157.0 L554.1,140.5 L554.3,153.5 L554.6,143.6 L554.8,109.8 L555.0,118.4 L555.2,115.2 L555.4,115.9 L555.6,113.3 L555.9,117.8 L556.1,127.3 L556.3,137.7 L556.5,115.8 L556.7,124.4 L556.9,149.5 L557.1,135.7 L557.4,124.9 L557.6,105.4 L557.8,65.9 L558.0,111.1 L558.2,126.3 L558.4,139.2 L558.6,130.2 L558.9,135.4 L559.1,129.1 L559.3,126.5 L559.5,121.0 L559.7,115.2 L559.9,147.8 L560.1,134.2 L560.4,127.1 L560.6,126.4 L560.8,132.7 L561.0,124.2 L561.2,75.6 L561.4,108.7 L561.7,116.1 L561.9,129.2 L562.1,91.2 L562.3,118.9 L562.5,130.8 L562.7,80.6 L562.9,114.7 L563.2,116.3 L563.4,121.7 L563.6,130.7 L563.8,120.8 L564.0,116.5 L564.2,115.2 L564.4,101.5 L564.7,127.9 L564.9,118.3 L565.1,147.7 L565.3,102.7 L565.5,105.9 L565.7,99.4 L565.9,76.5 L566.2,96.2 L566.4,122.9 L566.6,95.2 L566.8,119.4 L567.0,114.8 L567.2,125.6 L567.5,108.3 L567.7,147.1 L567.9,123.6 L568.1,105.8 L568.3,145.7 L568.5,147.9 L568.7,157.3 L569.0,133.5 L569.2,139.7 L569.4,142.1 L569.6,121.6 L569.8,105.8 L570.0,140.4 L570.2,159.3 L570.5,135.6 L570.7,126.6 L570.9,135.8 L571.1,86.6 L571.3,127.7 L571.5,111.3 L571.7,102.4 L572.0,121.3 L572.2,169.1 L572.4,151.7 L572.6,144.5 L572.8,138.6 L573.0,103.8 L573.3,145.0 L573.5,133.8 L573.7,127.0 L573.9,131.6 L574.1,136.2 L574.3,116.0 L574.5,126.8 L574.8,158.8 L575.0,115.2 L575.2,165.7 L575.4,140.4 L575.6,128.3 L575.8,128.3 L576.0,130.3 L576.3,138.2 L576.5,124.9 L576.7,133.1 L576.9,131.8 L577.1,117.5 L577.3,97.7 L577.5,115.4 L577.8,124.5 L578.0,111.1 L578.2,124.1 L578.4,99.2 L578.6,119.0 L578.8,123.8 L579.1,109.8 L579.3,69.1 L579.5,100.2 L579.7,111.7 L579.9,105.5 L580.1,98.5 L580.3,106.6 L580.6,142.7 L580.8,110.7 L581.0,138.3 L581.2,112.6 L581.4,100.5 L581.6,151.7 L581.8,83.0 L582.1,96.0 L582.3,123.1 L582.5,98.9 L582.7,127.0 L582.9,111.3 L583.1,112.2 L583.3,111.8 L583.6,99.7 L583.8,118.5 L584.0,123.6 L584.2,147.2 L584.4,134.7 L584.6,118.1 L584.9,104.7 L585.1,101.3 L585.3,129.4 L585.5,130.6 L585.7,95.2 L585.9,113.2 L586.1,136.7 L586.4,136.4 L586.6,123.9 L586.8,146.1 L587.0,109.9 L587.2,112.9 L587.4,110.4 L587.6,122.2 L587.9,137.3 L588.1,129.3 L588.3,133.5 L588.5,128.0 L588.7,137.0 L588.9,118.8 L589.1,131.9 L589.4,120.9 L589.6,111.2 L589.8,157.2 L590.0,139.0 L590.2,134.1 L590.4,106.7 L590.7,107.6 L590.9,114.7 L591.1,105.3 L591.3,95.9 L591.5,105.5 L591.7,111.9 L591.9,93.4 L592.2,101.2 L592.4,123.4 L592.6,113.7 L592.8,61.8 L593.0,113.8 L593.2,115.7 L593.4,118.5 L593.7,122.9 L593.9,115.5 L594.1,123.9 L594.3,99.4 L594.5,98.6 L594.7,107.8 L594.9,110.0 L595.2,114.1 L595.4,121.4 L595.6,108.7 L595.8,113.7 L596.0,114.6 L596.2,113.6 L596.5,123.2 L596.7,118.3 L596.9,88.2 L597.1,92.1 L597.3,144.0 L597.5,122.6 L597.7,129.7 L598.0,122.4 L598.2,126.5 L598.4,113.2 L598.6,127.5 L598.8,120.4 L599.0,105.4 L599.2,125.1 L599.5,131.3 L599.7,106.2 L599.9,106.3 L600.1,105.3 L600.3,101.9 L600.5,93.7 L600.7,101.3 L601.0,143.0 L601.2,122.6 L601.4,139.1 L601.6,140.3 L601.8,114.4 L602.0,102.3 L602.3,105.6 L602.5,92.7 L602.7,114.7 L602.9,109.3 L603.1,104.1 L603.3,100.6 L603.5,106.1 L603.8,89.8 L604.0,124.6 L604.2,114.2 L604.4,118.2 L604.6,120.9 L604.8,118.1 L605.0,112.0 L605.3,112.1 L605.5,78.1 L605.7,74.0 L605.9,87.5 L606.1,102.7 L606.3,104.2 L606.5,97.5 L606.8,130.9 L607.0,130.1 L607.2,73.9 L607.4,122.7 L607.6,85.8 L607.8,116.3 L608.1,98.4 L608.3,107.8 L608.5,148.8 L608.7,117.6 L608.9,88.4 L609.1,97.7 L609.3,128.0 L609.6,117.0 L609.8,99.9 L610.0,140.0 L610.2,130.1 L610.4,146.6 L610.6,122.7 L610.8,122.0 L611.1,86.1 L611.3,109.9 L611.5,103.7 L611.7,123.5 L611.9,110.8 L612.1,117.7 L612.3,92.3 L612.6,109.3 L612.8,111.4 L613.0,123.4 L613.2,123.8 L613.4,95.9 L613.6,90.9 L613.9,98.4 L614.1,150.9 L614.3,105.8 L614.5,121.4 L614.7,122.7 L614.9,106.5 L615.1,123.4 L615.4,118.4 L615.6,129.6 L615.8,109.6 L616.0,105.5 L616.2,101.7 L616.4,104.0 L616.6,101.0 L616.9,112.3 L617.1,105.1 L617.3,94.0 L617.5,95.8 L617.7,86.0 L617.9,117.0 L618.1,77.9 L618.4,132.4 L618.6,112.5 L618.8,107.5 L619.0,102.6 L619.2,111.9 L619.4,106.3 L619.7,95.5 L619.9,61.6 L620.1,104.8 L620.3,110.4 L620.5,90.2 L620.7,79.9 L620.9,95.7 L621.2,99.9 L621.4,119.2 L621.6,105.6 L621.8,81.3 L622.0,101.8 L622.2,96.4 L622.4,90.6 L622.7,97.1 L622.9,88.1 L623.1,100.8 L623.3,113.5 L623.5,142.1 L623.7,134.9 L623.9,107.9 L624.2,143.6 L624.4,115.8 L624.6,88.1 L624.8,105.0 L625.0,93.7 L625.2,116.4 L625.5,141.9 L625.7,114.6 L625.9,128.9 L626.1,124.8 L626.3,101.8 L626.5,136.8 L626.7,144.7 L627.0,137.0 L627.2,87.2 L627.4,115.7 L627.6,122.6 L627.8,119.1 L628.0,97.2 L628.2,106.3 L628.5,154.4 L628.7,138.4 L628.9,126.7 L629.1,140.4 L629.3,112.3 L629.5,78.5 L629.7,121.2 L630.0,111.9 L630.2,126.4 L630.4,114.8 L630.6,110.4 L630.8,113.5 L631.0,108.5 L631.3,110.6 L631.5,98.7 L631.7,102.3 L631.9,78.7 L632.1,102.8 L632.3,111.1 L632.5,110.6 L632.8,127.1 L633.0,118.6 L633.2,105.5 L633.4,85.3 L633.6,102.4 L633.8,149.1 L634.0,106.2 L634.3,117.1 L634.5,96.8 L634.7,110.9 L634.9,113.1 L635.1,152.6 L635.3,104.1 L635.5,99.6 L635.8,107.7 L636.0,127.8 L636.2,128.7 L636.4,113.0 L636.6,125.0 L636.8,120.4 L637.1,125.2 L637.3,142.3 L637.5,114.5 L637.7,113.8 L637.9,133.6 L638.1,116.8 L638.3,128.4 L638.6,111.9 L638.8,122.3 L639.0,104.8 L639.2,110.9 L639.4,98.4 L639.6,117.7 L639.8,124.1 L640.1,103.3 L640.3,125.9 L640.5,172.6 L640.7,111.2 L640.9,118.7 L641.1,107.4 L641.3,94.0 L641.6,140.9 L641.8,127.0 L642.0,88.8 L642.2,124.1 L642.4,125.3 L642.6,115.7 L642.9,114.0 L643.1,118.1 L643.3,129.6 L643.5,108.2 L643.7,122.7 L643.9,112.7 L644.1,130.9 L644.4,111.8 L644.6,108.4 L644.8,116.9 L645.0,102.1 L645.2,104.2 L645.4,123.6 L645.6,112.3 L645.9,81.4 L646.1,85.3 L646.3,120.8 L646.5,112.8 L646.7,123.9 L646.9,62.2 L647.1,120.9 L647.4,85.2 L647.6,125.8 L647.8,102.8 L648.0,127.4 L648.2,99.4 L648.4,127.2 L648.7,106.4 L648.9,129.2 L649.1,116.6 L649.3,94.5 L649.5,129.0 L649.7,115.8 L649.9,117.0 L650.2,99.6 L650.4,112.3 L650.6,99.7 L650.8,116.8 L651.0,134.5 L651.2,135.3 L651.4,130.1 L651.7,113.3 L651.9,117.1 L652.1,114.9 L652.3,109.3 L652.5,110.8 L652.7,95.7 L652.9,97.2 L653.2,89.4 L653.4,114.1 L653.6,105.3 L653.8,93.1 L654.0,102.2 L654.2,100.3 L654.4,96.2 L654.7,106.7 L654.9,97.0 L655.1,124.8 L655.3,112.1 L655.5,135.0 L655.7,86.2 L656.0,139.1 L656.2,124.0 L656.4,124.3 L656.6,103.9 L656.8,112.4 L657.0,94.2 L657.2,98.1 L657.5,107.2 L657.7,64.1 L657.9,105.1 L658.1,116.0 L658.3,131.6 L658.5,130.3 L658.7,118.7 L659.0,113.7 L659.2,61.5 L659.4,79.8 L659.6,106.6 L659.8,116.5 L660.0,109.9 L660.2,119.7 L660.5,120.0 L660.7,93.7 L660.9,91.0 L661.1,100.9 L661.3,97.8 L661.5,121.0 L661.8,84.1 L662.0,104.7 L662.2,112.4 L662.4,113.0 L662.6,95.4 L662.8,100.5 L663.0,107.7 L663.3,99.5 L663.5,103.2 L663.7,111.6 L663.9,123.6 L664.1,110.4 L664.3,85.9 L664.5,85.2 L664.8,116.1 L665.0,107.5 L665.2,99.3 L665.4,124.3 L665.6,92.5 L665.8,115.9 L666.0,120.3 L666.3,113.1 L666.5,121.6 L666.7,124.9 L666.9,122.9 L667.1,131.7 L667.3,132.5 L667.6,104.1 L667.8,92.0 L668.0,108.5 L668.2,90.6 L668.4,111.7 L668.6,96.1 L668.8,98.0 L669.1,104.5 L669.3,100.8 L669.5,114.6 L669.7,101.5 L669.9,103.0 L670.1,113.4 L670.3,106.6 L670.6,123.4 L670.8,114.6 L671.0,123.7 L671.2,118.2 L671.4,123.8 L671.6,143.9 L671.8,115.0 L672.1,107.6 L672.3,104.8 L672.5,128.1 L672.7,119.7 L672.9,98.7 L673.1,107.4 L673.4,91.6 L673.6,97.0 L673.8,92.9 L674.0,109.7 L674.2,99.7 L674.4,109.0 L674.6,73.2 L674.9,88.5 L675.1,76.9 L675.3,110.5 L675.5,104.2 L675.7,103.5 L675.9,113.6 L676.1,136.8 L676.4,85.2 L676.6,94.1 L676.8,119.7 L677.0,125.4 L677.2,107.6 L677.4,117.4 L677.6,128.4 L677.9,126.7 L678.1,114.2 L678.3,106.3 L678.5,109.2 L678.7,79.9 L678.9,84.0 L679.2,102.9 L679.4,86.2 L679.6,107.7 L679.8,104.6 L680.0,106.2 L680.2,108.1 L680.4,102.8 L680.7,114.4 L680.9,133.8 L681.1,159.5 L681.3,128.2 L681.5,130.5 L681.7,117.2 L681.9,111.3 L682.2,104.7 L682.4,118.9 L682.6,123.9 L682.8,111.3 L683.0,121.3 L683.2,137.3 L683.4,134.6 L683.7,148.7 L683.9,145.2 L684.1,119.4 L684.3,104.4 L684.5,121.8 L684.7,90.0 L685.0,87.4 L685.2,97.5 L685.4,108.1 L685.6,98.7 L685.8,111.1 L686.0,107.3 L686.2,135.7 L686.5,116.7 L686.7,129.1 L686.9,131.7 L687.1,106.8 L687.3,134.4 L687.5,103.8 L687.7,125.6 L688.0,115.8 L688.2,150.3 L688.4,162.8 L688.6,137.6 L688.8,122.3 L689.0,132.9 L689.2,147.6 L689.5,102.1 L689.7,94.7 L689.9,85.3 L690.1,104.9 L690.3,99.6 L690.5,127.2 L690.8,118.7 L691.0,147.8 L691.2,128.3 L691.4,92.0 L691.6,103.6 L691.8,131.2 L692.0,89.9 L692.3,149.5 L692.5,124.2 L692.7,140.2 L692.9,143.1 L693.1,126.1 L693.3,124.4 L693.5,116.0 L693.8,134.5 L694.0,107.3 L694.2,157.0 L694.4,108.0 L694.6,131.5 L694.8,124.5 L695.0,130.2 L695.3,136.1 L695.5,131.7 L695.7,132.0 L695.9,132.3 L696.1,168.6 L696.3,147.1 L696.6,118.1 L696.8,142.0 L697.0,139.1 L697.2,116.2 L697.4,111.3 L697.6,103.4 L697.8,77.8 L698.1,96.2 L698.3,129.1 L698.5,100.7 L698.7,125.6 L698.9,111.1 L699.1,124.1 L699.3,133.3 L699.6,125.6 L699.8,120.3 L700.0,125.7 L700.2,143.5 L700.4,123.8 L700.6,132.2 L700.8,125.5 L701.1,130.7 L701.3,131.6 L701.5,126.7 L701.7,128.8 L701.9,145.5 L702.1,133.8 L702.4,104.5 L702.6,135.2 L702.8,118.0 L703.0,120.0 L703.2,125.7 L703.4,108.5 L703.6,126.9 L703.9,91.9 L704.1,117.6 L704.3,136.7 L704.5,153.4 L704.7,149.4 L704.9,104.3 L705.1,104.9 L705.4,116.8 L705.6,108.9 L705.8,110.4 L706.0,148.6 L706.2,125.4 L706.4,97.3 L706.6,108.9 L706.9,123.4 L707.1,124.7 L707.3,137.1 L707.5,100.3 L707.7,93.3 L707.9,115.0 L708.2,103.0 L708.4,100.1 L708.6,132.7 L708.8,125.2 L709.0,75.2 L709.2,112.1 L709.4,86.1 L709.7,79.0 L709.9,112.6 L710.1,99.2 L710.3,135.2 L710.5,103.9 L710.7,96.4 L710.9,106.2 L711.2,89.5 L711.4,95.6 L711.6,68.0 L711.8,89.9 L712.0,104.8 L712.2,83.5 L712.4,51.6 L712.7,93.7 L712.9,60.8 L713.1,108.7 L713.3,79.9 L713.5,66.6 L713.7,72.0 L714.0,75.5 L714.2,138.9 L714.4,113.0 L714.6,106.1 L714.8,103.1 L715.0,126.1 L715.2,98.0 L715.5,52.5 L715.7,141.8 L715.9,142.5 L716.1,70.8 L716.3,86.0 L716.5,128.4 L716.7,112.2 L717.0,126.7 L717.2,110.5 L717.4,124.4 L717.6,114.3 L717.8,107.4 L718.0,108.2 L718.2,97.7 L718.5,106.8 L718.7,123.3 L718.9,93.1 L719.1,116.2 L719.3,110.7 L719.5,108.3 L719.8,87.9 L720.0,117.3 L720.2,122.6 L720.4,117.1 L720.6,108.3 L720.8,99.5 L721.0,101.3 L721.3,89.3 L721.5,102.8 L721.7,105.7 L721.9,107.8 L722.1,111.2 L722.3,105.6 L722.5,101.9 L722.8,145.0 L723.0,102.8 L723.2,141.1 L723.4,115.7 L723.6,106.0 L723.8,132.6 L724.0,80.5 L724.3,94.8 L724.5,123.7 L724.7,123.3 L724.9,118.1 L725.1,107.8 L725.3,106.6 L725.6,123.9 L725.8,135.6 L726.0,115.9 L726.2,96.5 L726.4,98.8 L726.6,107.6 L726.8,83.7 L727.1,71.3 L727.3,111.2 L727.5,102.3 L727.7,125.0 L727.9,109.6 L728.1,111.6 L728.3,85.5 L728.6,110.0 L728.8,88.7 L729.0,127.0 L729.2,108.2 L729.4,107.4 L729.6,89.1 L729.8,102.5 L730.1,110.3 L730.3,117.1 L730.5,121.6 L730.7,124.6 L730.9,105.6 L731.1,100.9 L731.4,108.0 L731.6,110.5 L731.8,114.0 L732.0,110.6 L732.2,106.6 L732.4,87.8 L732.6,115.7 L732.9,112.5 L733.1,124.6 L733.3,117.7 L733.5,101.8" stroke="#0072BD" stroke-width="1.15" fill="none" stroke-linejoin="round"/><path clip-path="url(#cc)" d="M33.5,403.0 L33.5,403.0 L33.5,403.0 L33.6,403.0 L33.6,403.0 L33.6,403.0 L33.6,403.0 L33.7,403.0 L33.7,403.0 L33.9,402.8 L34.1,402.5 L34.4,402.0 L34.7,401.6 L35.1,401.1 L35.4,400.7 L35.7,400.4 L36.0,400.3 L36.3,400.5 L36.5,400.9 L36.7,401.5 L36.9,402.1 L37.1,402.8 L37.3,403.4 L37.6,403.8 L37.8,404.0 L38.0,404.0 L38.1,403.9 L38.3,403.7 L38.5,403.5 L38.7,403.3 L38.9,403.1 L39.0,403.0 L39.2,403.0 L39.5,403.3 L39.7,403.8 L39.9,404.5 L40.1,405.4 L40.3,406.2 L40.5,406.9 L40.7,407.4 L41.0,407.6 L41.4,407.3 L41.9,406.4 L42.5,405.1 L43.0,403.6 L43.6,402.1 L44.1,400.8 L44.6,399.8 L45.1,399.4 L45.3,399.4 L45.5,399.6 L45.7,399.8 L45.8,400.1 L46.0,400.3 L46.2,400.5 L46.3,400.7 L46.5,400.7 L46.8,400.3 L47.1,399.3 L47.3,397.9 L47.5,396.3 L47.7,394.7 L48.0,393.3 L48.4,392.2 L48.8,391.6 L49.1,391.5 L49.4,391.5 L49.8,391.5 L50.2,391.6 L50.6,391.8 L51.0,392.0 L51.3,392.2 L51.6,392.5 L52.0,393.3 L52.4,394.4 L52.6,395.8 L52.9,397.3 L53.1,398.7 L53.3,400.0 L53.6,401.1 L53.9,401.7 L54.1,401.8 L54.2,401.9 L54.4,401.9 L54.5,401.9 L54.7,401.8 L54.9,401.9 L55.0,401.9 L55.2,402.0 L55.5,402.5 L55.9,403.4 L56.2,404.4 L56.5,405.5 L56.7,406.6 L57.0,407.6 L57.3,408.2 L57.5,408.5 L57.6,408.4 L57.7,408.2 L57.8,407.9 L58.0,407.6 L58.1,407.3 L58.2,407.0 L58.3,406.8 L58.4,406.7 L58.6,407.0 L58.8,407.6 L59.1,408.6 L59.3,409.7 L59.5,410.8 L59.8,411.7 L60.0,412.4 L60.3,412.7 L60.5,412.6 L60.7,412.1 L61.0,411.5 L61.2,410.9 L61.4,410.2 L61.6,409.6 L61.9,409.2 L62.1,409.0 L62.4,409.3 L62.7,410.0 L63.0,411.0 L63.2,412.2 L63.5,413.4 L63.8,414.4 L64.1,415.1 L64.4,415.4 L64.6,415.3 L64.8,415.0 L65.0,414.5 L65.3,414.0 L65.5,413.4 L65.7,412.9 L65.9,412.5 L66.2,412.2 L66.4,412.1 L66.5,412.1 L66.7,412.2 L66.9,412.2 L67.1,412.3 L67.3,412.3 L67.4,412.3 L67.6,412.2 L68.0,411.4 L68.4,409.9 L68.7,408.0 L68.9,405.8 L69.2,403.5 L69.5,401.4 L69.9,399.6 L70.4,398.4 L70.7,398.0 L71.0,397.6 L71.4,397.3 L71.8,397.0 L72.1,396.8 L72.5,396.6 L72.8,396.6 L73.1,396.6 L73.4,396.8 L73.7,397.0 L73.9,397.5 L74.1,397.9 L74.4,398.5 L74.6,399.1 L74.8,399.7 L75.0,400.3 L75.3,401.4 L75.7,402.9 L75.9,404.5 L76.2,406.2 L76.6,407.7 L76.9,409.1 L77.3,410.0 L77.7,410.4 L78.0,410.4 L78.3,410.1 L78.7,409.8 L79.1,409.3 L79.4,408.7 L79.8,408.2 L80.1,407.7 L80.5,407.2 L80.8,406.8 L81.2,406.5 L81.5,406.1 L81.9,405.8 L82.2,405.4 L82.6,405.0 L82.9,404.5 L83.2,404.0 L83.6,403.0 L84.0,401.8 L84.4,400.5 L84.7,399.1 L85.0,397.7 L85.4,396.4 L85.7,395.2 L86.0,394.3 L86.2,393.9 L86.3,393.6 L86.5,393.4 L86.7,393.1 L86.8,392.9 L87.0,392.7 L87.2,392.4 L87.3,392.0 L87.5,391.2 L87.7,390.2 L87.9,389.1 L88.1,387.9 L88.3,386.7 L88.4,385.6 L88.6,384.6 L88.9,383.7 L89.1,383.3 L89.3,382.9 L89.5,382.6 L89.7,382.3 L89.9,382.0 L90.1,381.7 L90.3,381.3 L90.5,380.9 L90.8,379.7 L91.0,378.1 L91.1,376.2 L91.2,374.2 L91.3,372.4 L91.4,370.9 L91.6,369.8 L91.8,369.4 L92.0,369.5 L92.1,369.8 L92.3,370.3 L92.5,371.0 L92.7,371.8 L92.9,372.6 L93.1,373.4 L93.3,374.3 L93.7,376.4 L94.0,379.1 L94.3,382.1 L94.7,385.3 L95.1,388.5 L95.5,391.3 L96.0,393.6 L96.6,395.2 L96.9,395.6 L97.1,395.9 L97.4,396.2 L97.7,396.5 L98.0,396.7 L98.3,396.8 L98.6,396.9 L98.8,396.9 L99.0,396.8 L99.1,396.7 L99.3,396.6 L99.4,396.4 L99.5,396.1 L99.6,395.8 L99.8,395.5 L99.9,395.2 L100.4,393.6 L100.9,391.1 L101.5,388.0 L102.1,384.8 L102.7,381.7 L103.3,379.0 L103.8,377.2 L104.3,376.5 L104.5,376.6 L104.7,377.0 L104.9,377.5 L105.1,378.2 L105.3,379.0 L105.5,379.9 L105.7,380.7 L105.9,381.5 L106.2,382.9 L106.4,384.6 L106.7,386.4 L106.9,388.3 L107.2,390.1 L107.5,391.6 L107.8,392.6 L108.1,393.0 L108.4,392.8 L108.6,392.3 L108.9,391.5 L109.2,390.5 L109.5,389.6 L109.8,388.8 L110.0,388.2 L110.3,388.0 L110.4,388.1 L110.6,388.3 L110.7,388.5 L110.9,388.9 L111.0,389.2 L111.1,389.5 L111.3,389.6 L111.4,389.7 L111.6,389.4 L111.8,388.6 L112.0,387.6 L112.2,386.4 L112.4,385.2 L112.6,384.2 L112.8,383.4 L113.1,383.1 L113.4,383.2 L113.7,383.6 L114.1,384.2 L114.4,385.0 L114.8,385.9 L115.2,386.8 L115.5,387.7 L115.8,388.6 L116.1,389.7 L116.4,390.9 L116.7,392.1 L116.9,393.4 L117.2,394.7 L117.4,396.0 L117.7,397.3 L118.0,398.5 L118.3,399.7 L118.7,401.0 L119.0,402.4 L119.4,403.7 L119.8,404.9 L120.1,405.9 L120.5,406.6 L120.8,406.8 L121.0,406.6 L121.2,406.0 L121.4,405.2 L121.6,404.3 L121.8,403.4 L122.0,402.6 L122.2,402.0 L122.4,401.8 L122.6,401.9 L122.8,402.2 L123.0,402.7 L123.2,403.3 L123.4,403.9 L123.6,404.4 L123.8,404.8 L124.1,405.1 L124.3,405.2 L124.5,405.2 L124.7,405.2 L124.9,405.1 L125.1,405.0 L125.3,405.0 L125.5,405.0 L125.7,405.1 L125.9,405.3 L126.0,405.7 L126.2,406.1 L126.3,406.6 L126.4,407.1 L126.5,407.5 L126.6,407.8 L126.8,407.9 L127.0,407.8 L127.3,407.6 L127.6,407.2 L127.9,406.8 L128.2,406.4 L128.5,406.0 L128.7,405.8 L129.0,405.7 L129.3,405.9 L129.5,406.3 L129.7,407.0 L129.9,407.6 L130.1,408.3 L130.3,408.9 L130.5,409.3 L130.7,409.5 L131.0,409.4 L131.3,408.9 L131.7,408.3 L132.1,407.6 L132.4,406.7 L132.8,405.8 L133.1,404.8 L133.4,404.0 L133.7,402.8 L134.1,401.4 L134.3,399.9 L134.6,398.4 L134.9,397.0 L135.1,395.8 L135.4,395.0 L135.6,394.7 L135.7,394.9 L135.9,395.3 L136.0,395.9 L136.1,396.6 L136.3,397.3 L136.4,397.9 L136.5,398.3 L136.7,398.5 L136.9,398.2 L137.2,397.6 L137.5,396.6 L137.8,395.5 L138.1,394.4 L138.4,393.4 L138.7,392.7 L138.9,392.5 L139.1,392.6 L139.2,393.0 L139.4,393.5 L139.5,394.1 L139.7,394.9 L139.8,395.7 L139.9,396.6 L140.0,397.4 L140.2,399.2 L140.3,401.3 L140.4,403.7 L140.5,406.2 L140.6,408.9 L140.7,411.6 L140.8,414.3 L140.9,417.0 L141.1,420.1 L141.3,423.4 L141.6,426.7 L141.9,430.1 L142.1,433.5 L142.4,436.9 L142.7,440.2 L143.0,443.4 L143.3,446.5 L143.6,450.1 L143.8,453.7 L144.1,457.3 L144.4,460.5 L144.7,463.0 L145.0,464.8 L145.3,465.4 L145.6,464.8 L145.9,463.1 L146.2,460.6 L146.5,457.4 L146.7,453.9 L147.0,450.3 L147.3,446.7 L147.5,443.4 L147.7,439.6 L148.0,435.6 L148.1,431.4 L148.3,427.2 L148.4,422.9 L148.6,418.5 L148.7,414.1 L148.9,409.7 L149.1,404.7 L149.3,399.7 L149.4,394.5 L149.6,389.3 L149.8,384.1 L150.0,378.9 L150.1,373.7 L150.3,368.6 L150.5,363.7 L150.6,358.7 L150.8,353.7 L150.9,348.7 L151.1,343.9 L151.2,339.1 L151.4,334.4 L151.6,330.0 L151.8,326.2 L152.0,322.0 L152.2,317.7 L152.4,313.6 L152.6,309.9 L152.8,306.9 L153.1,304.9 L153.3,304.2 L153.5,305.0 L153.8,307.2 L154.1,310.3 L154.4,314.2 L154.6,318.5 L154.9,322.7 L155.2,326.7 L155.4,330.0 L155.6,332.3 L155.7,334.6 L155.8,336.8 L156.0,339.0 L156.1,341.1 L156.3,343.1 L156.4,345.0 L156.7,346.7 L156.9,347.8 L157.1,349.0 L157.3,350.2 L157.6,351.3 L157.8,352.3 L158.1,353.1 L158.3,353.6 L158.6,353.8 L158.8,353.7 L159.1,353.4 L159.3,352.9 L159.6,352.3 L159.9,351.5 L160.1,350.8 L160.4,350.0 L160.6,349.3 L160.9,348.1 L161.2,346.6 L161.4,344.9 L161.6,343.1 L161.9,341.6 L162.1,340.2 L162.3,339.3 L162.5,339.0 L162.7,339.2 L162.8,339.6 L163.0,340.3 L163.2,341.1 L163.4,342.1 L163.5,343.2 L163.7,344.3 L163.8,345.4 L164.0,347.6 L164.2,350.1 L164.4,353.0 L164.5,356.0 L164.7,359.2 L164.8,362.4 L165.0,365.5 L165.1,368.6 L165.3,371.7 L165.4,374.9 L165.6,378.1 L165.7,381.2 L165.9,384.5 L166.1,387.7 L166.2,391.0 L166.4,394.3 L166.6,398.0 L166.8,401.7 L167.0,405.5 L167.2,409.3 L167.4,413.1 L167.6,416.9 L167.8,420.6 L168.0,424.3 L168.2,427.7 L168.4,431.2 L168.5,434.8 L168.7,438.2 L168.9,441.6 L169.1,444.8 L169.3,447.9 L169.5,450.7 L169.7,452.7 L169.8,454.7 L170.0,456.8 L170.1,458.8 L170.3,460.5 L170.5,461.9 L170.7,462.9 L170.9,463.2 L171.1,462.8 L171.4,461.8 L171.7,460.3 L172.0,458.5 L172.3,456.5 L172.6,454.4 L172.9,452.4 L173.1,450.7 L173.3,449.3 L173.5,447.9 L173.7,446.5 L173.9,445.1 L174.1,443.7 L174.2,442.3 L174.4,440.7 L174.6,439.0 L174.9,436.1 L175.1,432.7 L175.4,429.0 L175.6,425.3 L175.9,421.6 L176.2,418.1 L176.5,415.1 L176.8,412.6 L177.0,411.7 L177.2,410.8 L177.3,410.1 L177.5,409.4 L177.7,408.7 L177.9,408.1 L178.1,407.4 L178.3,406.7 L178.5,405.9 L178.7,405.0 L178.8,404.0 L179.0,403.1 L179.2,402.2 L179.3,401.5 L179.5,401.1 L179.7,400.9 L179.9,401.1 L180.0,401.8 L180.2,402.7 L180.4,403.8 L180.6,404.8 L180.8,405.7 L181.0,406.4 L181.2,406.7 L181.4,406.6 L181.5,406.4 L181.7,406.0 L181.9,405.6 L182.1,405.2 L182.3,404.8 L182.5,404.6 L182.7,404.5 L183.0,404.7 L183.3,405.3 L183.5,406.2 L183.8,407.1 L184.1,408.1 L184.4,408.9 L184.6,409.5 L184.9,409.7 L185.1,409.6 L185.3,409.3 L185.5,409.0 L185.7,408.5 L185.9,408.0 L186.1,407.4 L186.3,407.0 L186.5,406.6 L186.7,406.3 L186.9,406.0 L187.1,405.7 L187.4,405.4 L187.6,405.2 L187.8,405.0 L188.1,404.8 L188.3,404.8 L188.5,404.8 L188.8,405.0 L189.0,405.2 L189.2,405.4 L189.5,405.7 L189.7,406.0 L189.9,406.3 L190.1,406.6 L190.3,407.0 L190.6,407.5 L190.8,408.1 L191.0,408.6 L191.1,409.2 L191.3,409.8 L191.5,410.4 L191.6,411.0 L191.7,411.7 L191.8,412.4 L191.9,413.1 L192.0,413.8 L192.1,414.6 L192.1,415.3 L192.2,416.1 L192.3,416.9 L192.4,417.9 L192.5,418.9 L192.7,420.0 L192.8,421.1 L193.0,422.2 L193.1,423.2 L193.2,424.2 L193.4,425.0 L193.5,425.5 L193.6,425.9 L193.6,426.4 L193.7,426.8 L193.8,427.2 L193.9,427.5 L194.0,427.8 L194.2,427.9 L194.3,427.9 L194.5,427.9 L194.7,427.7 L194.8,427.6 L195.0,427.4 L195.2,427.3 L195.4,427.2 L195.6,427.1 L195.8,427.1 L196.0,427.1 L196.2,427.1 L196.4,427.2 L196.6,427.2 L196.8,427.2 L196.9,427.2 L197.1,427.1 L197.4,426.6 L197.6,425.9 L197.8,425.0 L197.9,423.9 L197.9,422.7 L198.0,421.5 L198.1,420.3 L198.2,419.1 L198.3,417.7 L198.5,416.3 L198.6,414.8 L198.7,413.3 L198.8,411.7 L199.0,410.2 L199.1,408.7 L199.3,407.3 L199.5,406.1 L199.7,404.9 L199.9,403.7 L200.1,402.5 L200.3,401.4 L200.6,400.3 L200.8,399.1 L201.0,398.0 L201.2,396.8 L201.3,395.5 L201.5,394.2 L201.7,392.9 L201.8,391.7 L202.0,390.7 L202.2,390.0 L202.4,389.8 L202.6,390.1 L202.8,390.9 L203.1,392.0 L203.3,393.3 L203.6,394.7 L203.8,395.8 L204.1,396.6 L204.3,396.9 L204.5,396.6 L204.7,396.0 L204.8,395.0 L205.0,393.9 L205.2,392.8 L205.3,391.8 L205.5,391.2 L205.7,390.9 L205.9,391.3 L206.1,392.2 L206.3,393.6 L206.5,395.2 L206.7,396.8 L207.0,398.2 L207.2,399.3 L207.6,399.7 L207.9,399.7 L208.2,399.4 L208.6,399.1 L209.0,398.6 L209.4,398.1 L209.7,397.5 L210.0,396.9 L210.3,396.4 L210.5,395.9 L210.7,395.3 L210.8,394.7 L211.0,394.1 L211.1,393.4 L211.2,392.8 L211.3,392.1 L211.4,391.4 L211.6,390.5 L211.8,389.4 L212.0,388.3 L212.2,387.2 L212.4,386.1 L212.6,385.1 L212.9,384.1 L213.1,383.2 L213.3,382.6 L213.5,381.9 L213.7,381.3 L213.9,380.7 L214.1,380.1 L214.3,379.7 L214.5,379.4 L214.7,379.3 L215.0,379.6 L215.4,380.3 L215.7,381.4 L216.1,382.7 L216.4,384.2 L216.8,385.6 L217.2,387.0 L217.5,388.1 L217.8,389.0 L218.1,390.0 L218.3,391.0 L218.6,391.9 L218.9,392.8 L219.1,393.5 L219.4,394.0 L219.7,394.2 L219.9,394.1 L220.1,393.9 L220.3,393.6 L220.5,393.1 L220.7,392.7 L220.9,392.4 L221.1,392.1 L221.3,392.0 L221.5,392.1 L221.7,392.3 L221.9,392.5 L222.2,392.8 L222.4,393.2 L222.6,393.4 L222.8,393.6 L223.0,393.6 L223.4,393.0 L223.8,391.5 L224.1,389.5 L224.3,387.3 L224.6,385.0 L224.9,383.0 L225.3,381.6 L225.7,381.0 L226.0,381.0 L226.2,381.2 L226.5,381.5 L226.8,381.8 L227.1,382.3 L227.4,382.7 L227.7,383.2 L227.9,383.7 L228.2,384.6 L228.5,385.8 L228.8,387.1 L229.0,388.5 L229.3,389.8 L229.5,390.9 L229.8,391.7 L230.1,392.0 L230.3,392.0 L230.5,391.8 L230.7,391.5 L230.9,391.2 L231.1,390.8 L231.4,390.4 L231.6,390.1 L231.8,389.8 L232.0,389.6 L232.2,389.5 L232.4,389.4 L232.6,389.3 L232.8,389.2 L233.0,389.1 L233.2,388.9 L233.4,388.7 L233.7,387.9 L234.0,386.7 L234.3,385.3 L234.5,383.8 L234.7,382.4 L234.9,381.2 L235.1,380.3 L235.4,379.9 L235.6,379.9 L235.7,380.1 L235.9,380.4 L236.0,380.7 L236.2,381.0 L236.4,381.3 L236.5,381.5 L236.7,381.5 L237.0,381.1 L237.3,380.1 L237.5,378.6 L237.8,377.0 L238.0,375.5 L238.3,374.1 L238.6,373.1 L238.9,372.7 L239.3,372.9 L239.7,373.6 L240.1,374.6 L240.5,375.9 L241.0,377.3 L241.4,378.8 L241.8,380.2 L242.2,381.5 L242.6,382.8 L243.0,384.2 L243.3,385.6 L243.6,387.0 L244.0,388.4 L244.3,389.8 L244.6,391.2 L245.0,392.5 L245.3,393.7 L245.6,394.9 L246.0,396.2 L246.3,397.4 L246.6,398.6 L247.0,399.6 L247.3,400.6 L247.7,401.3 L247.9,401.6 L248.1,401.9 L248.3,402.2 L248.6,402.5 L248.8,402.7 L249.0,402.9 L249.2,403.0 L249.4,403.0 L249.6,402.9 L249.8,402.7 L250.0,402.4 L250.2,402.0 L250.4,401.6 L250.6,401.1 L250.8,400.7 L251.0,400.2 L251.3,399.4 L251.6,398.5 L251.8,397.4 L252.1,396.3 L252.4,395.3 L252.6,394.4 L252.9,393.8 L253.2,393.6 L253.4,393.7 L253.6,394.1 L253.8,394.6 L254.0,395.2 L254.2,395.8 L254.5,396.4 L254.7,396.7 L254.9,396.9 L255.1,396.8 L255.3,396.6 L255.5,396.2 L255.7,395.8 L255.9,395.4 L256.1,395.0 L256.3,394.8 L256.5,394.7 L256.8,395.0 L257.0,395.8 L257.3,396.8 L257.5,398.1 L257.7,399.5 L257.8,401.0 L258.0,402.3 L258.2,403.5 L258.3,404.5 L258.4,405.6 L258.5,406.7 L258.6,407.8 L258.7,408.9 L258.8,409.8 L259.0,410.6 L259.3,411.2 L259.5,411.4 L259.6,411.7 L259.8,411.8 L260.1,412.0 L260.3,412.1 L260.5,412.2 L260.7,412.3 L260.9,412.3 L261.1,412.3 L261.3,412.2 L261.6,412.1 L261.8,412.0 L262.0,411.9 L262.2,411.7 L262.4,411.5 L262.6,411.2 L263.0,410.4 L263.3,409.3 L263.6,407.9 L263.9,406.4 L264.1,404.8 L264.3,403.2 L264.5,401.6 L264.8,400.2 L265.1,398.9 L265.3,397.6 L265.5,396.2 L265.8,394.9 L266.0,393.6 L266.3,392.4 L266.6,391.3 L267.0,390.3 L267.3,389.7 L267.6,389.0 L268.0,388.4 L268.3,387.8 L268.7,387.3 L269.1,386.9 L269.4,386.6 L269.7,386.5 L269.9,386.6 L270.2,386.8 L270.4,387.0 L270.6,387.4 L270.8,387.8 L271.0,388.3 L271.2,388.7 L271.4,389.2 L271.7,390.1 L271.9,391.2 L272.0,392.4 L272.2,393.7 L272.4,394.9 L272.5,395.9 L272.8,396.6 L273.0,396.9 L273.2,396.7 L273.5,396.2 L273.8,395.4 L274.1,394.5 L274.4,393.6 L274.6,392.8 L274.9,392.2 L275.2,392.0 L275.4,392.1 L275.6,392.5 L275.8,393.0 L276.1,393.7 L276.3,394.3 L276.5,394.8 L276.7,395.2 L276.9,395.3 L277.2,395.1 L277.5,394.6 L277.7,393.8 L278.0,392.8 L278.3,391.7 L278.6,390.7 L278.8,389.6 L279.1,388.7 L279.4,387.8 L279.6,386.9 L279.9,385.9 L280.1,384.9 L280.4,384.0 L280.7,383.2 L281.0,382.6 L281.3,382.1 L281.5,382.0 L281.7,381.9 L281.9,381.8 L282.1,381.8 L282.3,381.8 L282.5,381.7 L282.7,381.7 L282.9,381.5 L283.3,380.8 L283.5,379.8 L283.8,378.6 L284.0,377.2 L284.2,375.9 L284.4,374.7 L284.7,373.8 L285.1,373.3 L285.3,373.2 L285.5,373.3 L285.7,373.3 L285.9,373.4 L286.1,373.6 L286.4,373.7 L286.6,373.8 L286.8,373.8 L287.0,373.8 L287.2,373.7 L287.4,373.6 L287.6,373.4 L287.8,373.3 L288.0,373.3 L288.2,373.2 L288.4,373.3 L288.8,373.7 L289.1,374.6 L289.4,375.7 L289.6,376.9 L289.9,378.4 L290.1,379.8 L290.3,381.3 L290.6,382.6 L290.9,384.0 L291.3,385.6 L291.6,387.1 L292.0,388.7 L292.3,390.2 L292.7,391.8 L293.0,393.3 L293.4,394.7 L293.7,396.1 L294.0,397.5 L294.4,399.1 L294.7,400.6 L295.0,401.9 L295.4,403.0 L295.7,403.8 L296.1,404.1 L296.3,404.1 L296.5,404.0 L296.7,403.8 L296.9,403.6 L297.2,403.3 L297.4,403.0 L297.6,402.7 L297.8,402.4 L298.1,401.8 L298.4,401.1 L298.7,400.3 L298.9,399.5 L299.2,398.7 L299.5,398.0 L299.7,397.6 L300.0,397.4 L300.3,397.7 L300.6,398.3 L300.9,399.3 L301.1,400.4 L301.4,401.5 L301.7,402.4 L301.9,403.1 L302.2,403.4 L302.3,403.3 L302.5,403.2 L302.6,402.9 L302.7,402.6 L302.9,402.3 L303.0,402.0 L303.2,401.9 L303.3,401.8 L303.6,402.1 L303.8,402.7 L304.1,403.5 L304.3,404.5 L304.6,405.5 L304.9,406.5 L305.2,407.1 L305.5,407.5 L305.7,407.5 L305.9,407.5 L306.1,407.3 L306.3,407.1 L306.6,407.0 L306.8,406.8 L307.0,406.8 L307.2,406.8 L307.5,407.1 L307.9,407.6 L308.2,408.4 L308.4,409.2 L308.7,410.2 L309.0,411.1 L309.2,412.0 L309.5,412.8 L309.7,413.5 L310.0,414.3 L310.2,415.1 L310.4,415.9 L310.6,416.6 L310.9,417.3 L311.1,417.7 L311.4,418.0 L311.6,418.0 L311.7,418.0 L311.9,417.9 L312.1,417.8 L312.3,417.7 L312.5,417.6 L312.6,417.6 L312.8,417.6 L313.1,417.8 L313.3,418.0 L313.5,418.4 L313.7,418.8 L314.0,419.2 L314.2,419.7 L314.4,420.1 L314.7,420.5 L315.0,420.9 L315.2,421.3 L315.5,421.7 L315.8,422.2 L316.1,422.6 L316.4,422.9 L316.7,423.1 L316.9,423.1 L317.1,423.0 L317.3,422.7 L317.5,422.3 L317.6,421.8 L317.8,421.3 L318.0,420.8 L318.1,420.3 L318.3,419.8 L318.5,419.3 L318.7,418.8 L318.8,418.3 L319.0,417.8 L319.2,417.3 L319.4,416.9 L319.6,416.6 L319.8,416.5 L319.9,416.5 L320.1,416.6 L320.2,416.7 L320.4,416.9 L320.5,417.0 L320.6,417.1 L320.8,417.2 L320.9,417.2 L321.1,416.9 L321.3,416.4 L321.5,415.6 L321.7,414.8 L321.9,414.0 L322.0,413.2 L322.2,412.7 L322.4,412.5 L322.5,412.5 L322.7,412.7 L322.8,412.9 L322.9,413.1 L323.1,413.4 L323.2,413.7 L323.4,414.0 L323.5,414.3 L323.7,414.8 L323.9,415.4 L324.0,416.0 L324.2,416.7 L324.4,417.3 L324.6,417.8 L324.7,418.2 L324.9,418.3 L325.1,418.2 L325.3,417.8 L325.4,417.2 L325.6,416.6 L325.8,415.8 L326.0,415.1 L326.2,414.4 L326.4,413.9 L326.6,413.6 L326.8,413.2 L327.0,413.0 L327.2,412.7 L327.4,412.4 L327.5,412.1 L327.7,411.8 L327.9,411.4 L328.1,410.8 L328.3,410.2 L328.5,409.5 L328.7,408.8 L328.8,408.0 L329.0,407.3 L329.2,406.6 L329.3,405.9 L329.4,405.3 L329.5,404.8 L329.7,404.3 L329.8,403.8 L329.9,403.2 L330.0,402.6 L330.1,402.0 L330.2,401.2 L330.5,399.0 L330.7,396.3 L331.0,393.1 L331.3,389.7 L331.5,386.2 L331.8,382.8 L332.1,379.7 L332.4,377.0 L332.6,375.4 L332.8,373.8 L333.0,372.3 L333.2,370.8 L333.4,369.4 L333.6,368.2 L333.8,367.0 L334.1,366.0 L334.3,365.4 L334.5,364.9 L334.7,364.3 L334.9,363.8 L335.1,363.3 L335.3,363.0 L335.5,362.8 L335.7,362.7 L335.9,362.8 L336.1,363.1 L336.4,363.6 L336.6,364.2 L336.8,364.9 L337.0,365.6 L337.2,366.4 L337.4,367.1 L337.7,368.6 L337.9,370.4 L338.1,372.4 L338.3,374.5 L338.4,376.6 L338.6,378.7 L338.8,380.7 L339.0,382.5 L339.2,383.8 L339.4,385.0 L339.6,386.2 L339.7,387.4 L340.0,388.5 L340.2,389.5 L340.4,390.5 L340.7,391.3 L340.9,391.8 L341.1,392.2 L341.3,392.7 L341.5,393.1 L341.7,393.5 L341.9,393.8 L342.1,394.0 L342.3,394.1 L342.4,394.1 L342.6,394.1 L342.7,394.1 L342.8,394.0 L343.0,393.9 L343.1,393.8 L343.3,393.7 L343.4,393.5 L343.8,392.7 L344.2,391.5 L344.5,389.9 L344.9,388.2 L345.3,386.5 L345.7,384.8 L346.2,383.5 L346.7,382.5 L347.0,382.1 L347.4,381.8 L347.7,381.5 L348.1,381.2 L348.5,381.0 L348.8,380.9 L349.2,380.9 L349.5,380.9 L349.9,381.2 L350.3,381.7 L350.6,382.4 L351.0,383.3 L351.3,384.2 L351.6,385.2 L351.9,386.1 L352.2,386.9 L352.5,387.7 L352.8,388.6 L353.1,389.6 L353.4,390.5 L353.6,391.3 L353.9,392.1 L354.2,392.7 L354.5,393.0 L354.6,393.1 L354.7,393.1 L354.9,393.1 L355.0,393.1 L355.1,393.1 L355.2,393.0 L355.4,393.0 L355.5,393.0" stroke="#0072BD" stroke-width="1.2" fill="none" stroke-linejoin="round"/><path clip-path="url(#cd)" d="M406.6,478.3 L406.6,478.3 L406.6,478.3 L406.7,478.3 L406.7,478.3 L406.7,478.3 L406.7,478.3 L406.8,478.3 L406.8,478.3 L407.0,478.3 L407.2,478.4 L407.5,478.5 L407.9,478.6 L408.2,478.7 L408.5,478.7 L408.9,478.8 L409.1,478.8 L409.4,478.7 L409.6,478.7 L409.9,478.6 L410.1,478.5 L410.3,478.3 L410.5,478.2 L410.7,478.1 L411.0,478.0 L411.1,478.0 L411.3,478.1 L411.5,478.1 L411.7,478.2 L411.9,478.2 L412.0,478.2 L412.2,478.3 L412.4,478.3 L412.6,478.2 L412.9,478.1 L413.1,477.9 L413.3,477.6 L413.5,477.4 L413.7,477.1 L413.9,476.9 L414.2,476.8 L414.7,477.0 L415.2,477.3 L415.7,477.7 L416.3,478.1 L416.8,478.5 L417.4,478.7 L417.9,478.8 L418.4,478.9 L418.6,478.9 L418.8,478.8 L418.9,478.8 L419.1,478.8 L419.3,478.8 L419.5,478.7 L419.6,478.7 L419.8,478.7 L420.1,478.8 L420.4,478.9 L420.6,479.0 L420.8,479.0 L421.0,478.9 L421.3,478.8 L421.7,478.6 L422.1,478.5 L422.4,478.5 L422.8,478.5 L423.2,478.5 L423.6,478.5 L423.9,478.5 L424.3,478.6 L424.7,478.6 L425.0,478.7 L425.4,478.8 L425.8,478.9 L426.0,479.0 L426.3,479.0 L426.5,478.9 L426.7,478.8 L427.0,478.7 L427.3,478.5 L427.5,478.5 L427.6,478.5 L427.8,478.5 L428.0,478.5 L428.1,478.5 L428.3,478.5 L428.5,478.5 L428.6,478.5 L429.0,478.4 L429.3,478.2 L429.6,477.9 L429.9,477.6 L430.2,477.2 L430.5,476.8 L430.7,476.6 L431.0,476.4 L431.1,476.5 L431.2,476.6 L431.3,476.7 L431.4,476.8 L431.5,477.0 L431.6,477.1 L431.8,477.1 L431.9,477.2 L432.1,477.1 L432.3,476.8 L432.6,476.4 L432.8,475.9 L433.0,475.4 L433.3,474.8 L433.5,474.5 L433.8,474.3 L434.0,474.4 L434.2,474.6 L434.5,475.0 L434.7,475.3 L434.9,475.7 L435.2,476.0 L435.4,476.2 L435.6,476.2 L435.9,476.1 L436.2,475.8 L436.5,475.2 L436.8,474.6 L437.1,473.9 L437.4,473.3 L437.7,472.8 L438.0,472.6 L438.2,472.7 L438.4,472.9 L438.6,473.2 L438.8,473.5 L439.1,473.9 L439.3,474.2 L439.5,474.4 L439.8,474.6 L440.0,474.6 L440.1,474.6 L440.3,474.6 L440.5,474.6 L440.7,474.5 L440.9,474.5 L441.1,474.5 L441.2,474.6 L441.7,475.0 L442.0,475.8 L442.3,476.7 L442.6,477.5 L442.8,478.2 L443.1,478.6 L443.5,478.8 L444.1,478.9 L444.4,479.0 L444.7,479.0 L445.1,479.0 L445.4,479.0 L445.8,479.0 L446.2,479.0 L446.5,479.0 L446.8,479.0 L447.1,479.0 L447.4,479.0 L447.6,479.0 L447.9,479.0 L448.1,478.9 L448.3,478.9 L448.5,478.8 L448.7,478.8 L449.1,478.6 L449.4,478.3 L449.7,477.9 L450.0,477.4 L450.3,476.8 L450.6,476.2 L451.0,475.8 L451.5,475.6 L451.8,475.6 L452.1,475.7 L452.5,475.9 L452.8,476.1 L453.2,476.3 L453.6,476.6 L454.0,476.8 L454.3,477.0 L454.7,477.1 L455.0,477.3 L455.4,477.4 L455.7,477.5 L456.1,477.6 L456.4,477.7 L456.7,477.9 L457.1,478.0 L457.5,478.3 L457.9,478.5 L458.3,478.7 L458.6,478.9 L458.9,479.0 L459.3,479.0 L459.6,479.0 L459.9,478.9 L460.1,478.9 L460.2,478.8 L460.4,478.8 L460.6,478.8 L460.7,478.7 L460.9,478.7 L461.1,478.6 L461.2,478.6 L461.5,478.4 L461.7,478.2 L461.8,477.9 L462.0,477.6 L462.2,477.2 L462.4,476.7 L462.6,476.3 L462.8,475.9 L463.0,475.7 L463.2,475.5 L463.4,475.3 L463.7,475.2 L463.9,475.0 L464.1,474.9 L464.3,474.7 L464.5,474.4 L464.7,473.7 L464.9,472.6 L465.1,471.2 L465.2,469.7 L465.3,468.1 L465.4,466.7 L465.6,465.7 L465.8,465.3 L466.0,465.4 L466.1,465.7 L466.3,466.2 L466.5,466.8 L466.7,467.5 L466.9,468.3 L467.1,469.0 L467.3,469.8 L467.7,471.4 L468.0,473.3 L468.4,475.1 L468.7,476.6 L469.1,477.7 L469.5,478.5 L470.0,478.8 L470.7,479.0 L470.9,479.0 L471.2,479.0 L471.5,479.0 L471.8,479.0 L472.1,479.0 L472.4,479.0 L472.7,479.0 L472.9,479.0 L473.1,479.0 L473.2,479.0 L473.4,479.0 L473.5,479.0 L473.6,479.0 L473.7,479.0 L473.9,479.0 L474.0,479.0 L474.5,478.8 L475.1,478.4 L475.7,477.6 L476.3,476.4 L476.9,474.8 L477.4,473.3 L478.0,472.0 L478.5,471.5 L478.7,471.6 L478.9,471.8 L479.1,472.2 L479.3,472.7 L479.5,473.2 L479.7,473.8 L479.9,474.3 L480.1,474.7 L480.4,475.5 L480.6,476.3 L480.9,477.1 L481.2,477.7 L481.4,478.2 L481.7,478.5 L482.0,478.7 L482.3,478.7 L482.6,478.7 L482.9,478.6 L483.2,478.5 L483.4,478.3 L483.7,478.1 L484.0,477.8 L484.3,477.7 L484.6,477.6 L484.7,477.6 L484.9,477.7 L485.0,477.8 L485.1,477.9 L485.3,478.0 L485.4,478.0 L485.6,478.1 L485.7,478.1 L485.9,478.0 L486.1,477.8 L486.3,477.5 L486.5,477.0 L486.7,476.6 L486.9,476.1 L487.1,475.7 L487.4,475.6 L487.7,475.7 L488.0,475.8 L488.4,476.1 L488.8,476.5 L489.1,476.8 L489.5,477.2 L489.8,477.5 L490.2,477.8 L490.5,478.1 L490.8,478.4 L491.1,478.6 L491.3,478.8 L491.5,478.9 L491.8,479.0 L492.1,479.0 L492.4,478.9 L492.7,478.8 L493.1,478.7 L493.4,478.4 L493.8,478.1 L494.2,477.8 L494.6,477.4 L494.9,477.2 L495.2,477.1 L495.5,477.2 L495.7,477.4 L495.9,477.7 L496.0,477.9 L496.2,478.2 L496.4,478.4 L496.6,478.5 L496.9,478.5 L497.0,478.5 L497.2,478.4 L497.4,478.3 L497.6,478.2 L497.9,478.1 L498.1,477.9 L498.3,477.8 L498.6,477.7 L498.8,477.7 L499.0,477.7 L499.2,477.7 L499.4,477.7 L499.6,477.7 L499.8,477.7 L500.0,477.7 L500.2,477.7 L500.4,477.6 L500.5,477.5 L500.7,477.4 L500.8,477.2 L500.9,477.0 L501.0,476.9 L501.1,476.8 L501.3,476.7 L501.6,476.7 L501.8,476.8 L502.1,477.0 L502.4,477.1 L502.7,477.3 L503.0,477.4 L503.3,477.5 L503.6,477.5 L503.8,477.5 L504.0,477.3 L504.2,477.1 L504.4,476.8 L504.6,476.5 L504.8,476.3 L505.0,476.1 L505.3,476.0 L505.6,476.1 L505.9,476.3 L506.3,476.5 L506.7,476.8 L507.0,477.2 L507.4,477.5 L507.7,477.8 L508.0,478.0 L508.4,478.3 L508.7,478.6 L509.0,478.8 L509.3,479.0 L509.5,479.0 L509.8,479.0 L510.0,478.9 L510.3,478.9 L510.4,478.9 L510.5,479.0 L510.7,479.0 L510.8,479.0 L510.9,479.0 L511.1,479.0 L511.2,479.0 L511.4,478.9 L511.6,479.0 L511.9,479.0 L512.2,479.0 L512.5,479.0 L512.8,478.9 L513.1,478.8 L513.4,478.7 L513.6,478.7 L513.8,478.7 L514.0,478.7 L514.1,478.8 L514.2,478.9 L514.4,478.9 L514.5,479.0 L514.6,479.0 L514.7,479.0 L514.9,478.9 L515.0,478.6 L515.2,478.1 L515.2,477.3 L515.3,476.3 L515.4,474.9 L515.5,473.3 L515.6,471.4 L515.8,468.9 L516.1,465.9 L516.3,462.4 L516.6,458.5 L516.9,454.1 L517.2,449.3 L517.5,444.2 L517.8,438.9 L518.0,433.3 L518.3,426.6 L518.6,419.2 L518.9,411.6 L519.2,404.3 L519.5,398.1 L519.8,393.8 L520.1,392.3 L520.4,393.8 L520.7,398.0 L521.0,404.0 L521.3,411.2 L521.6,418.8 L521.8,426.3 L522.1,433.1 L522.3,438.9 L522.6,445.3 L522.8,451.3 L523.0,456.8 L523.1,461.9 L523.3,466.4 L523.4,470.3 L523.6,473.4 L523.8,475.9 L523.9,477.8 L524.1,478.8 L524.3,478.9 L524.5,478.0 L524.7,476.1 L524.8,473.1 L525.0,469.3 L525.2,464.5 L525.3,458.9 L525.5,452.4 L525.6,444.9 L525.8,436.7 L525.9,427.6 L526.1,417.9 L526.3,407.7 L526.5,397.1 L526.7,387.5 L526.9,376.2 L527.1,364.1 L527.3,351.8 L527.5,340.3 L527.7,330.6 L528.0,324.0 L528.2,321.6 L528.5,324.2 L528.7,331.4 L529.0,341.8 L529.3,353.8 L529.6,366.4 L529.9,378.3 L530.1,388.8 L530.4,397.1 L530.5,402.7 L530.7,408.0 L530.8,413.1 L530.9,417.8 L531.1,422.1 L531.2,426.1 L531.4,429.8 L531.7,433.0 L531.9,435.0 L532.1,437.2 L532.3,439.2 L532.5,441.1 L532.8,442.7 L533.1,444.0 L533.3,444.8 L533.6,445.1 L533.8,445.0 L534.1,444.4 L534.4,443.7 L534.6,442.6 L534.9,441.5 L535.2,440.2 L535.4,438.9 L535.6,437.6 L535.9,435.5 L536.2,432.7 L536.5,429.5 L536.7,426.2 L536.9,423.0 L537.1,420.3 L537.3,418.4 L537.6,417.7 L537.7,418.1 L537.9,419.0 L538.1,420.4 L538.3,422.2 L538.4,424.2 L538.6,426.3 L538.7,428.5 L538.9,430.6 L539.1,434.6 L539.3,439.1 L539.5,443.8 L539.6,448.5 L539.8,453.1 L539.9,457.3 L540.1,461.1 L540.2,464.5 L540.4,467.5 L540.5,470.2 L540.7,472.6 L540.9,474.6 L541.0,476.2 L541.2,477.5 L541.3,478.4 L541.5,478.9 L541.7,479.0 L541.9,478.5 L542.1,477.6 L542.3,476.1 L542.5,474.1 L542.7,471.5 L542.9,468.5 L543.1,465.0 L543.3,461.3 L543.5,457.1 L543.7,452.4 L543.9,447.3 L544.1,442.0 L544.2,436.4 L544.4,430.9 L544.7,425.4 L544.8,421.5 L545.0,417.1 L545.1,412.6 L545.3,408.1 L545.5,404.1 L545.7,400.8 L545.9,398.5 L546.1,397.7 L546.3,398.6 L546.6,401.0 L546.9,404.6 L547.2,408.8 L547.5,413.4 L547.8,417.8 L548.1,421.9 L548.3,425.4 L548.5,428.2 L548.7,430.9 L548.9,433.4 L549.1,435.9 L549.3,438.4 L549.5,440.9 L549.7,443.4 L549.8,446.1 L550.1,450.5 L550.4,455.2 L550.6,459.8 L550.9,464.0 L551.2,467.6 L551.4,470.6 L551.7,472.8 L552.1,474.4 L552.3,474.9 L552.4,475.3 L552.6,475.7 L552.8,476.1 L553.0,476.4 L553.2,476.6 L553.4,476.9 L553.6,477.2 L553.8,477.5 L554.0,477.7 L554.1,478.0 L554.3,478.3 L554.5,478.4 L554.7,478.6 L554.8,478.7 L555.0,478.7 L555.2,478.6 L555.4,478.5 L555.5,478.3 L555.7,478.1 L555.9,477.8 L556.1,477.5 L556.3,477.3 L556.5,477.2 L556.7,477.2 L556.9,477.3 L557.1,477.4 L557.3,477.5 L557.5,477.7 L557.7,477.8 L557.9,477.9 L558.1,477.9 L558.3,477.8 L558.6,477.6 L558.9,477.4 L559.2,477.0 L559.5,476.6 L559.8,476.3 L560.0,476.0 L560.3,475.9 L560.5,475.9 L560.7,476.1 L560.9,476.2 L561.1,476.5 L561.3,476.7 L561.5,476.9 L561.7,477.1 L561.9,477.2 L562.1,477.3 L562.4,477.4 L562.6,477.5 L562.8,477.6 L563.1,477.7 L563.3,477.7 L563.5,477.8 L563.8,477.8 L564.0,477.8 L564.2,477.7 L564.5,477.7 L564.7,477.6 L564.9,477.5 L565.2,477.4 L565.4,477.3 L565.6,477.2 L565.8,477.0 L566.1,476.9 L566.3,476.6 L566.5,476.4 L566.6,476.1 L566.8,475.9 L567.0,475.6 L567.1,475.3 L567.2,474.9 L567.4,474.5 L567.4,474.1 L567.5,473.6 L567.6,473.1 L567.6,472.6 L567.7,472.1 L567.8,471.5 L567.9,470.8 L568.1,469.9 L568.2,469.0 L568.3,468.0 L568.5,467.1 L568.6,466.1 L568.8,465.1 L568.9,464.3 L569.0,463.8 L569.1,463.3 L569.2,462.8 L569.3,462.3 L569.3,461.9 L569.4,461.5 L569.6,461.3 L569.7,461.1 L569.9,461.1 L570.0,461.2 L570.2,461.3 L570.4,461.5 L570.6,461.6 L570.8,461.8 L571.0,461.9 L571.2,462.0 L571.4,462.1 L571.6,462.0 L571.8,462.0 L572.0,461.9 L572.2,461.9 L572.3,461.9 L572.5,461.9 L572.7,462.0 L573.0,462.5 L573.2,463.3 L573.4,464.3 L573.5,465.4 L573.5,466.6 L573.6,467.7 L573.7,468.8 L573.8,469.8 L574.0,470.9 L574.1,472.0 L574.2,473.0 L574.3,474.0 L574.5,474.9 L574.6,475.7 L574.7,476.4 L574.9,476.9 L575.1,477.4 L575.3,477.8 L575.5,478.1 L575.8,478.4 L576.0,478.6 L576.2,478.8 L576.4,478.9 L576.6,479.0 L576.8,479.0 L577.0,479.0 L577.2,478.9 L577.3,478.7 L577.5,478.5 L577.7,478.3 L577.9,478.2 L578.1,478.1 L578.3,478.2 L578.5,478.4 L578.8,478.6 L579.0,478.8 L579.3,478.9 L579.5,479.0 L579.8,479.0 L580.0,479.0 L580.2,479.0 L580.4,479.0 L580.5,478.9 L580.7,478.9 L580.9,478.7 L581.1,478.6 L581.2,478.4 L581.4,478.4 L581.6,478.5 L581.8,478.6 L582.0,478.8 L582.2,479.0 L582.4,479.0 L582.7,479.0 L583.0,478.9 L583.3,478.8 L583.6,478.8 L584.0,478.9 L584.4,478.9 L584.8,478.9 L585.1,479.0 L585.5,479.0 L585.8,479.0 L586.1,479.0 L586.3,479.0 L586.5,479.0 L586.6,478.9 L586.8,478.9 L586.9,478.8 L587.0,478.7 L587.1,478.6 L587.2,478.5 L587.4,478.3 L587.6,478.0 L587.8,477.7 L588.0,477.3 L588.2,476.9 L588.4,476.5 L588.7,476.1 L588.9,475.6 L589.1,475.3 L589.3,475.0 L589.5,474.6 L589.7,474.3 L589.9,473.9 L590.1,473.7 L590.3,473.5 L590.6,473.4 L590.9,473.6 L591.2,474.0 L591.6,474.7 L592.0,475.4 L592.3,476.1 L592.7,476.7 L593.1,477.2 L593.4,477.6 L593.7,477.9 L594.0,478.2 L594.2,478.4 L594.5,478.6 L594.8,478.7 L595.1,478.8 L595.3,478.9 L595.6,478.9 L595.8,478.9 L596.0,478.9 L596.2,478.8 L596.4,478.8 L596.6,478.7 L596.8,478.7 L597.0,478.6 L597.3,478.6 L597.5,478.6 L597.7,478.6 L597.9,478.7 L598.1,478.7 L598.4,478.8 L598.6,478.8 L598.8,478.8 L599.0,478.8 L599.4,478.7 L599.8,478.5 L600.1,478.0 L600.3,477.4 L600.6,476.5 L600.9,475.6 L601.3,474.8 L601.7,474.5 L602.0,474.5 L602.3,474.6 L602.5,474.7 L602.8,474.9 L603.1,475.2 L603.4,475.4 L603.7,475.6 L604.0,475.9 L604.3,476.3 L604.6,476.8 L604.9,477.3 L605.1,477.8 L605.3,478.1 L605.6,478.4 L605.9,478.5 L606.2,478.6 L606.4,478.6 L606.6,478.6 L606.8,478.5 L607.0,478.4 L607.2,478.3 L607.5,478.3 L607.7,478.2 L607.9,478.1 L608.1,478.1 L608.3,478.0 L608.5,478.0 L608.7,478.0 L609.0,478.0 L609.2,477.9 L609.4,477.9 L609.5,477.8 L609.9,477.6 L610.2,477.2 L610.4,476.6 L610.6,475.9 L610.8,475.2 L611.0,474.5 L611.3,474.0 L611.6,473.8 L611.7,473.8 L611.9,473.9 L612.1,474.1 L612.2,474.3 L612.4,474.5 L612.6,474.6 L612.7,474.7 L612.9,474.7 L613.2,474.5 L613.5,473.9 L613.7,473.0 L614.0,471.9 L614.2,470.7 L614.5,469.6 L614.8,468.7 L615.1,468.4 L615.5,468.6 L615.9,469.2 L616.3,470.0 L616.8,471.0 L617.2,472.1 L617.7,473.1 L618.1,474.0 L618.5,474.7 L618.9,475.4 L619.2,476.1 L619.6,476.7 L619.9,477.3 L620.3,477.7 L620.6,478.1 L621.0,478.4 L621.3,478.7 L621.6,478.8 L622.0,478.9 L622.3,479.0 L622.6,479.0 L623.0,478.9 L623.3,478.8 L623.7,478.7 L624.1,478.6 L624.3,478.6 L624.5,478.5 L624.7,478.4 L624.9,478.4 L625.2,478.3 L625.4,478.3 L625.6,478.3 L625.8,478.3 L626.0,478.3 L626.2,478.3 L626.4,478.4 L626.6,478.5 L626.8,478.6 L627.0,478.6 L627.2,478.7 L627.4,478.8 L627.7,478.9 L628.0,478.9 L628.3,479.0 L628.5,479.0 L628.8,479.0 L629.1,478.9 L629.4,478.8 L629.6,478.8 L629.9,478.8 L630.1,478.9 L630.3,478.9 L630.5,479.0 L630.7,479.0 L630.9,479.0 L631.1,479.0 L631.4,479.0 L631.6,479.0 L631.8,479.0 L632.0,479.0 L632.2,479.0 L632.4,479.0 L632.6,478.9 L632.8,478.9 L633.0,478.9 L633.3,478.9 L633.5,479.0 L633.8,479.0 L634.0,479.0 L634.2,478.9 L634.4,478.7 L634.5,478.4 L634.7,478.2 L634.9,477.9 L635.0,477.5 L635.0,477.2 L635.1,476.7 L635.2,476.3 L635.4,475.9 L635.6,475.5 L635.8,475.1 L636.0,475.0 L636.2,474.9 L636.4,474.8 L636.6,474.7 L636.8,474.6 L637.0,474.6 L637.2,474.5 L637.5,474.5 L637.7,474.5 L637.9,474.6 L638.1,474.6 L638.3,474.7 L638.6,474.8 L638.8,474.9 L639.0,475.0 L639.2,475.1 L639.6,475.6 L639.9,476.1 L640.2,476.7 L640.5,477.3 L640.7,477.8 L640.9,478.2 L641.2,478.6 L641.4,478.8 L641.7,478.9 L641.9,479.0 L642.2,479.0 L642.4,478.9 L642.7,478.8 L642.9,478.7 L643.3,478.5 L643.7,478.2 L644.0,478.1 L644.3,477.9 L644.6,477.7 L645.0,477.5 L645.4,477.4 L645.7,477.2 L646.1,477.1 L646.4,477.1 L646.6,477.1 L646.9,477.2 L647.1,477.3 L647.3,477.4 L647.5,477.5 L647.7,477.7 L647.9,477.8 L648.1,478.0 L648.4,478.2 L648.6,478.4 L648.8,478.7 L648.9,478.8 L649.1,478.9 L649.3,479.0 L649.5,479.0 L649.7,479.0 L650.0,479.0 L650.3,479.0 L650.5,479.0 L650.8,478.9 L651.1,478.8 L651.4,478.7 L651.7,478.6 L652.0,478.6 L652.2,478.6 L652.4,478.7 L652.6,478.8 L652.9,478.8 L653.1,478.9 L653.3,478.9 L653.5,479.0 L653.7,479.0 L654.0,479.0 L654.3,478.9 L654.6,478.8 L654.8,478.7 L655.1,478.5 L655.4,478.3 L655.7,478.1 L655.9,477.8 L656.2,477.5 L656.5,477.2 L656.7,476.8 L657.0,476.5 L657.2,476.0 L657.5,475.7 L657.8,475.3 L658.2,475.1 L658.4,475.0 L658.6,474.9 L658.8,474.9 L659.0,474.9 L659.2,474.9 L659.4,474.9 L659.6,474.8 L659.8,474.7 L660.2,474.4 L660.4,473.7 L660.7,472.9 L660.9,472.0 L661.1,471.0 L661.4,470.1 L661.7,469.3 L662.0,468.9 L662.2,468.9 L662.4,468.9 L662.6,468.9 L662.9,469.0 L663.1,469.1 L663.3,469.2 L663.5,469.3 L663.8,469.3 L664.0,469.3 L664.2,469.2 L664.4,469.1 L664.6,469.0 L664.8,468.9 L665.0,468.9 L665.2,468.9 L665.4,468.9 L665.8,469.3 L666.1,470.0 L666.4,470.8 L666.6,471.8 L666.9,472.8 L667.1,473.8 L667.3,474.6 L667.6,475.3 L668.0,476.0 L668.3,476.7 L668.6,477.3 L669.0,477.8 L669.4,478.2 L669.7,478.5 L670.1,478.8 L670.5,478.9 L670.8,479.0 L671.1,479.0 L671.4,478.9 L671.8,478.7 L672.1,478.5 L672.4,478.3 L672.8,478.1 L673.2,478.0 L673.4,478.0 L673.6,478.0 L673.8,478.1 L674.1,478.1 L674.3,478.2 L674.5,478.3 L674.7,478.3 L674.9,478.4 L675.2,478.5 L675.5,478.6 L675.8,478.8 L676.1,478.9 L676.3,478.9 L676.6,479.0 L676.9,479.0 L677.2,479.0 L677.4,479.0 L677.7,479.0 L678.0,478.9 L678.3,478.8 L678.6,478.6 L678.9,478.4 L679.1,478.2 L679.4,478.2 L679.5,478.2 L679.7,478.2 L679.8,478.3 L679.9,478.4 L680.1,478.4 L680.2,478.5 L680.4,478.5 L680.5,478.5 L680.8,478.5 L681.0,478.3 L681.3,478.1 L681.5,477.9 L681.8,477.6 L682.1,477.3 L682.4,477.0 L682.7,476.9 L682.9,476.9 L683.2,476.9 L683.4,476.9 L683.6,477.0 L683.8,477.1 L684.0,477.1 L684.3,477.1 L684.5,477.1 L684.8,477.0 L685.1,476.8 L685.4,476.5 L685.7,476.1 L686.0,475.7 L686.3,475.2 L686.5,474.7 L686.8,474.2 L687.0,473.8 L687.3,473.3 L687.5,472.8 L687.7,472.2 L687.9,471.7 L688.2,471.2 L688.4,470.9 L688.7,470.7 L688.9,470.6 L689.1,470.7 L689.2,470.7 L689.4,470.8 L689.6,470.9 L689.8,471.0 L690.0,471.0 L690.2,471.0 L690.4,470.9 L690.6,470.6 L690.9,470.4 L691.1,470.0 L691.3,469.7 L691.6,469.3 L691.8,468.9 L692.1,468.6 L692.3,468.3 L692.6,467.9 L692.9,467.5 L693.2,467.1 L693.5,466.7 L693.8,466.4 L694.1,466.2 L694.3,466.2 L694.5,466.3 L694.7,466.6 L694.9,467.0 L695.1,467.4 L695.2,467.9 L695.4,468.4 L695.6,468.8 L695.7,469.2 L695.9,469.6 L696.1,470.0 L696.3,470.4 L696.5,470.8 L696.7,471.2 L696.8,471.5 L697.0,471.7 L697.3,471.8 L697.4,471.8 L697.5,471.7 L697.7,471.7 L697.8,471.5 L698.0,471.4 L698.1,471.3 L698.2,471.3 L698.4,471.3 L698.6,471.5 L698.8,471.9 L699.0,472.4 L699.2,473.0 L699.3,473.5 L699.5,474.0 L699.7,474.3 L699.9,474.4 L700.0,474.4 L700.2,474.3 L700.3,474.2 L700.5,474.1 L700.6,473.9 L700.7,473.7 L700.9,473.5 L701.0,473.3 L701.2,473.0 L701.4,472.6 L701.6,472.1 L701.7,471.7 L701.9,471.2 L702.1,470.8 L702.3,470.5 L702.4,470.4 L702.6,470.5 L702.8,470.8 L703.0,471.3 L703.2,471.8 L703.4,472.3 L703.5,472.8 L703.7,473.2 L704.0,473.6 L704.1,473.8 L704.3,474.0 L704.5,474.2 L704.7,474.3 L704.9,474.5 L705.1,474.7 L705.3,474.8 L705.5,475.0 L705.7,475.3 L705.9,475.7 L706.1,476.0 L706.3,476.3 L706.4,476.6 L706.6,476.9 L706.8,477.2 L706.9,477.5 L707.0,477.6 L707.2,477.8 L707.3,478.0 L707.4,478.1 L707.5,478.2 L707.6,478.4 L707.7,478.5 L707.8,478.6 L708.1,478.9 L708.3,479.0 L708.6,478.8 L708.9,478.1 L709.2,477.0 L709.5,475.4 L709.7,473.7 L710.0,471.8 L710.2,470.6 L710.4,469.3 L710.6,468.0 L710.8,466.7 L711.0,465.3 L711.2,464.0 L711.5,462.8 L711.8,461.6 L712.0,461.0 L712.2,460.3 L712.4,459.7 L712.6,459.1 L712.8,458.5 L713.0,458.1 L713.2,457.8 L713.4,457.7 L713.6,457.9 L713.9,458.2 L714.1,458.8 L714.3,459.5 L714.5,460.3 L714.7,461.2 L714.9,462.0 L715.1,462.9 L715.4,464.5 L715.6,466.2 L715.8,468.1 L716.0,469.9 L716.2,471.6 L716.3,473.0 L716.5,474.3 L716.7,475.3 L716.9,475.9 L717.1,476.5 L717.3,477.0 L717.5,477.4 L717.7,477.8 L717.9,478.0 L718.2,478.3 L718.5,478.5 L718.7,478.5 L718.8,478.6 L719.0,478.7 L719.2,478.8 L719.5,478.8 L719.7,478.8 L719.9,478.9 L720.1,478.9 L720.2,478.9 L720.4,478.9 L720.5,478.9 L720.7,478.9 L720.8,478.9 L720.9,478.8 L721.1,478.8 L721.2,478.8 L721.6,478.7 L722.0,478.5 L722.4,478.2 L722.7,477.7 L723.1,477.1 L723.5,476.4 L724.0,475.8 L724.6,475.3 L724.9,475.1 L725.2,474.9 L725.6,474.7 L726.0,474.6 L726.4,474.5 L726.7,474.4 L727.1,474.4 L727.4,474.4 L727.8,474.6 L728.2,474.9 L728.6,475.2 L728.9,475.7 L729.2,476.1 L729.5,476.5 L729.8,476.9 L730.1,477.2 L730.5,477.5 L730.8,477.8 L731.0,478.1 L731.3,478.3 L731.6,478.5 L731.9,478.6 L732.2,478.7 L732.5,478.7 L732.6,478.8 L732.7,478.8 L732.9,478.8 L733.0,478.8 L733.1,478.8 L733.2,478.7 L733.4,478.7 L733.5,478.7" stroke="#0072BD" stroke-width="1.2" fill="none" stroke-linejoin="round"/>
<text x="180.0" y="265.8" text-anchor="middle" font-family="'Liberation Serif', serif" font-size="17" fill="#000">(a)</text><text x="558.4" y="265.8" text-anchor="middle" font-family="'Liberation Serif', serif" font-size="17" fill="#000">(b)</text><text x="180.6" y="541.5" text-anchor="middle" font-family="'Liberation Serif', serif" font-size="17" fill="#000">(c)</text><text x="559" y="541.5" text-anchor="middle" font-family="'Liberation Serif', serif" font-size="17" fill="#000">(d)</text>
</svg>
</body></html>
